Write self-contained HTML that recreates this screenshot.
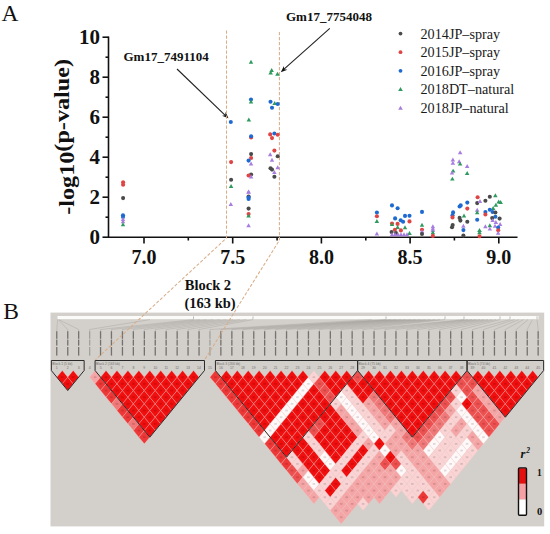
<!DOCTYPE html><html><head><meta charset="utf-8"><style>html,body{margin:0;padding:0;background:#fff;width:550px;height:534px;overflow:hidden}svg{display:block}</style></head><body>
<svg width="550" height="534" viewBox="0 0 550 534">
<rect width="550" height="534" fill="#fff"/>
<text x="1.5" y="21.2" font-family="Liberation Serif, serif" font-size="23.5" fill="#111">A</text>
<text x="3.2" y="319.3" font-family="Liberation Serif, serif" font-size="23.5" fill="#111">B</text>
<g stroke="#111" stroke-width="1.6" fill="none">
<path d="M108.5 36.5V237.2H517.5"/>
<path d="M102.5 237.2H108.5"/>
<path d="M102.5 197.2H108.5"/>
<path d="M102.5 157.2H108.5"/>
<path d="M102.5 117.2H108.5"/>
<path d="M102.5 77.2H108.5"/>
<path d="M102.5 37.2H108.5"/>
<path d="M105.5 217.2H108.5"/>
<path d="M105.5 177.2H108.5"/>
<path d="M105.5 137.2H108.5"/>
<path d="M105.5 97.2H108.5"/>
<path d="M105.5 57.2H108.5"/>
<path d="M144.0 237.2V243.5"/>
<path d="M232.7 237.2V243.5"/>
<path d="M321.4 237.2V243.5"/>
<path d="M410.1 237.2V243.5"/>
<path d="M498.8 237.2V243.5"/>
<path d="M188.3 237.2V240.5"/>
<path d="M277.1 237.2V240.5"/>
<path d="M365.8 237.2V240.5"/>
<path d="M454.4 237.2V240.5"/>
</g>
<g font-family="Liberation Serif, serif" font-weight="bold" font-size="21" fill="#111" text-anchor="end">
<text x="100" y="244.1">0</text>
<text x="100" y="204.1">2</text>
<text x="100" y="164.1">4</text>
<text x="100" y="124.1">6</text>
<text x="100" y="84.1">8</text>
<text x="100" y="44.1">10</text>
</g>
<g font-family="Liberation Serif, serif" font-weight="bold" font-size="20" fill="#111" text-anchor="middle">
<text x="144.0" y="264">7.0</text>
<text x="232.7" y="264">7.5</text>
<text x="321.4" y="264">8.0</text>
<text x="410.1" y="264">8.5</text>
<text x="498.8" y="264">9.0</text>
</g>
<text transform="translate(74.4 214.8) rotate(-90) scale(1.1 1)" font-family="Liberation Serif, serif" font-weight="bold" font-size="22" fill="#111">-log10<tspan dy="-5.2">(p-value)</tspan></text>
<g font-family="Liberation Serif, serif" font-weight="bold" font-size="13" fill="#111">
<text x="123.5" y="60.5">Gm17_7491104</text>
<text x="286" y="20.6">Gm17_7754048</text>
</g>
<g stroke="#222" stroke-width="1.1" fill="none"><path d="M177 69L225.5 115.6"/><path d="M329.8 28.3L283.5 69.6"/></g>
<path d="M228.50 118.30L222.01 115.68L225.21 115.15L225.60 111.93Z" fill="#111"/>
<path d="M280.80 72.20L283.91 65.93L284.19 69.16L287.38 69.80Z" fill="#111"/>
<g font-family="Liberation Serif, serif" font-weight="bold" font-size="14.5" fill="#111"><text x="184.8" y="290.2">Block 2</text><text x="184.5" y="307.5">(163 kb)</text></g>
<circle cx="400.5" cy="33.6" r="1.9" fill="#4a4a4a"/>
<text x="420.5" y="38.6" font-family="Liberation Serif, serif" font-size="14.2" fill="#1a1a1a">2014JP–spray</text>
<circle cx="400.5" cy="52.2" r="1.9" fill="#e04545"/>
<text x="420.5" y="57.2" font-family="Liberation Serif, serif" font-size="14.2" fill="#1a1a1a">2015JP–spray</text>
<circle cx="400.5" cy="70.8" r="1.9" fill="#1f6ad0"/>
<text x="420.5" y="75.8" font-family="Liberation Serif, serif" font-size="14.2" fill="#1a1a1a">2016JP–spray</text>
<path d="M400.5 87.1L402.8 91.1L398.2 91.1Z" fill="#2f9a5e"/>
<text x="420.5" y="94.4" font-family="Liberation Serif, serif" font-size="14.2" fill="#1a1a1a">2018DT–natural</text>
<path d="M400.5 105.7L402.8 109.7L398.2 109.7Z" fill="#a77ee0"/>
<text x="420.5" y="113.0" font-family="Liberation Serif, serif" font-size="14.2" fill="#1a1a1a">2018JP–natural</text>
<rect x="50.5" y="312.6" width="493.7" height="213.8" fill="#d3cfca"/>
<rect x="57.5" y="316" width="481" height="3.2" fill="#fbfbfa"/>
<g stroke="#f0c8c4" stroke-width="0.55" stroke-opacity="0.6"><path d="M62.27 370.50L67.74 377.17L62.27 383.84L56.80 377.17Z" fill="rgb(240,14,14)"/><path d="M67.74 377.17L73.21 383.84L67.74 390.51L62.27 383.84Z" fill="rgb(240,14,14)"/><path d="M73.21 370.50L78.68 377.17L73.21 383.84L67.74 377.17Z" fill="rgb(240,14,14)"/><path d="M95.09 370.50L100.56 377.17L95.09 383.84L89.62 377.17Z" fill="rgb(245,165,165)"/><path d="M100.56 377.17L106.03 383.84L100.56 390.51L95.09 383.84Z" fill="rgb(238,55,55)"/><path d="M106.03 383.84L111.50 390.51L106.03 397.18L100.56 390.51Z" fill="rgb(238,55,55)"/><path d="M111.50 390.51L116.97 397.18L111.50 403.85L106.03 397.18Z" fill="rgb(238,55,55)"/><path d="M116.97 397.18L122.44 403.85L116.97 410.52L111.50 403.85Z" fill="rgb(240,120,120)"/><path d="M122.44 403.85L127.91 410.52L122.44 417.19L116.97 410.52Z" fill="rgb(238,55,55)"/><path d="M127.91 410.52L133.38 417.19L127.91 423.86L122.44 417.19Z" fill="rgb(238,55,55)"/><path d="M133.38 417.19L138.85 423.86L133.38 430.53L127.91 423.86Z" fill="rgb(240,120,120)"/><path d="M138.85 423.86L144.32 430.53L138.85 437.20L133.38 430.53Z" fill="rgb(238,55,55)"/><path d="M144.32 430.53L149.79 437.20L144.32 443.87L138.85 437.20Z" fill="rgb(238,55,55)"/><path d="M106.03 370.50L111.50 377.17L106.03 383.84L100.56 377.17Z" fill="rgb(240,14,14)"/><path d="M111.50 377.17L116.97 383.84L111.50 390.51L106.03 383.84Z" fill="rgb(240,14,14)"/><path d="M116.97 383.84L122.44 390.51L116.97 397.18L111.50 390.51Z" fill="rgb(240,14,14)"/><path d="M122.44 390.51L127.91 397.18L122.44 403.85L116.97 397.18Z" fill="rgb(240,14,14)"/><path d="M127.91 397.18L133.38 403.85L127.91 410.52L122.44 403.85Z" fill="rgb(240,14,14)"/><path d="M133.38 403.85L138.85 410.52L133.38 417.19L127.91 410.52Z" fill="rgb(240,14,14)"/><path d="M138.85 410.52L144.32 417.19L138.85 423.86L133.38 417.19Z" fill="rgb(240,14,14)"/><path d="M144.32 417.19L149.79 423.86L144.32 430.53L138.85 423.86Z" fill="rgb(240,14,14)"/><path d="M149.79 423.86L155.26 430.53L149.79 437.20L144.32 430.53Z" fill="rgb(240,14,14)"/><path d="M116.97 370.50L122.44 377.17L116.97 383.84L111.50 377.17Z" fill="rgb(240,14,14)"/><path d="M122.44 377.17L127.91 383.84L122.44 390.51L116.97 383.84Z" fill="rgb(240,14,14)"/><path d="M127.91 383.84L133.38 390.51L127.91 397.18L122.44 390.51Z" fill="rgb(240,14,14)"/><path d="M133.38 390.51L138.85 397.18L133.38 403.85L127.91 397.18Z" fill="rgb(240,14,14)"/><path d="M138.85 397.18L144.32 403.85L138.85 410.52L133.38 403.85Z" fill="rgb(240,14,14)"/><path d="M144.32 403.85L149.79 410.52L144.32 417.19L138.85 410.52Z" fill="rgb(240,14,14)"/><path d="M149.79 410.52L155.26 417.19L149.79 423.86L144.32 417.19Z" fill="rgb(240,14,14)"/><path d="M155.26 417.19L160.73 423.86L155.26 430.53L149.79 423.86Z" fill="rgb(240,14,14)"/><path d="M127.91 370.50L133.38 377.17L127.91 383.84L122.44 377.17Z" fill="rgb(240,14,14)"/><path d="M133.38 377.17L138.85 383.84L133.38 390.51L127.91 383.84Z" fill="rgb(240,14,14)"/><path d="M138.85 383.84L144.32 390.51L138.85 397.18L133.38 390.51Z" fill="rgb(240,14,14)"/><path d="M144.32 390.51L149.79 397.18L144.32 403.85L138.85 397.18Z" fill="rgb(240,14,14)"/><path d="M149.79 397.18L155.26 403.85L149.79 410.52L144.32 403.85Z" fill="rgb(240,14,14)"/><path d="M155.26 403.85L160.73 410.52L155.26 417.19L149.79 410.52Z" fill="rgb(240,14,14)"/><path d="M160.73 410.52L166.20 417.19L160.73 423.86L155.26 417.19Z" fill="rgb(240,14,14)"/><path d="M138.85 370.50L144.32 377.17L138.85 383.84L133.38 377.17Z" fill="rgb(240,14,14)"/><path d="M144.32 377.17L149.79 383.84L144.32 390.51L138.85 383.84Z" fill="rgb(240,14,14)"/><path d="M149.79 383.84L155.26 390.51L149.79 397.18L144.32 390.51Z" fill="rgb(240,14,14)"/><path d="M155.26 390.51L160.73 397.18L155.26 403.85L149.79 397.18Z" fill="rgb(240,14,14)"/><path d="M160.73 397.18L166.20 403.85L160.73 410.52L155.26 403.85Z" fill="rgb(240,14,14)"/><path d="M166.20 403.85L171.67 410.52L166.20 417.19L160.73 410.52Z" fill="rgb(240,14,14)"/><path d="M149.79 370.50L155.26 377.17L149.79 383.84L144.32 377.17Z" fill="rgb(240,14,14)"/><path d="M155.26 377.17L160.73 383.84L155.26 390.51L149.79 383.84Z" fill="rgb(240,14,14)"/><path d="M160.73 383.84L166.20 390.51L160.73 397.18L155.26 390.51Z" fill="rgb(240,14,14)"/><path d="M166.20 390.51L171.67 397.18L166.20 403.85L160.73 397.18Z" fill="rgb(240,14,14)"/><path d="M171.67 397.18L177.14 403.85L171.67 410.52L166.20 403.85Z" fill="rgb(240,14,14)"/><path d="M160.73 370.50L166.20 377.17L160.73 383.84L155.26 377.17Z" fill="rgb(240,14,14)"/><path d="M166.20 377.17L171.67 383.84L166.20 390.51L160.73 383.84Z" fill="rgb(240,14,14)"/><path d="M171.67 383.84L177.14 390.51L171.67 397.18L166.20 390.51Z" fill="rgb(240,14,14)"/><path d="M177.14 390.51L182.61 397.18L177.14 403.85L171.67 397.18Z" fill="rgb(240,14,14)"/><path d="M171.67 370.50L177.14 377.17L171.67 383.84L166.20 377.17Z" fill="rgb(240,14,14)"/><path d="M177.14 377.17L182.61 383.84L177.14 390.51L171.67 383.84Z" fill="rgb(240,14,14)"/><path d="M182.61 383.84L188.08 390.51L182.61 397.18L177.14 390.51Z" fill="rgb(240,14,14)"/><path d="M182.61 370.50L188.08 377.17L182.61 383.84L177.14 377.17Z" fill="rgb(240,14,14)"/><path d="M188.08 377.17L193.55 383.84L188.08 390.51L182.61 383.84Z" fill="rgb(240,14,14)"/><path d="M193.55 370.50L199.02 377.17L193.55 383.84L188.08 377.17Z" fill="rgb(240,14,14)"/><path d="M215.43 370.50L220.90 377.17L215.43 383.84L209.96 377.17Z" fill="rgb(238,55,55)"/><path d="M220.90 377.17L226.37 383.84L220.90 390.51L215.43 383.84Z" fill="rgb(238,55,55)"/><path d="M226.37 383.84L231.84 390.51L226.37 397.18L220.90 390.51Z" fill="rgb(238,55,55)"/><path d="M231.84 390.51L237.31 397.18L231.84 403.85L226.37 397.18Z" fill="rgb(238,55,55)"/><path d="M237.31 397.18L242.78 403.85L237.31 410.52L231.84 403.85Z" fill="rgb(238,55,55)"/><path d="M242.78 403.85L248.25 410.52L242.78 417.19L237.31 410.52Z" fill="rgb(238,55,55)"/><path d="M248.25 410.52L253.72 417.19L248.25 423.86L242.78 417.19Z" fill="rgb(238,55,55)"/><path d="M253.72 417.19L259.19 423.86L253.72 430.53L248.25 423.86Z" fill="rgb(238,55,55)"/><path d="M259.19 423.86L264.66 430.53L259.19 437.20L253.72 430.53Z" fill="rgb(238,55,55)"/><path d="M264.66 430.53L270.13 437.20L264.66 443.87L259.19 437.20Z" fill="rgb(255,248,248)"/><path d="M270.13 437.20L275.60 443.87L270.13 450.54L264.66 443.87Z" fill="rgb(238,55,55)"/><path d="M275.60 443.87L281.07 450.54L275.60 457.21L270.13 450.54Z" fill="rgb(238,55,55)"/><path d="M281.07 450.54L286.54 457.21L281.07 463.88L275.60 457.21Z" fill="rgb(238,55,55)"/><path d="M286.54 457.21L292.01 463.88L286.54 470.55L281.07 463.88Z" fill="rgb(238,55,55)"/><path d="M292.01 463.88L297.48 470.55L292.01 477.22L286.54 470.55Z" fill="rgb(238,80,80)"/><path d="M297.48 470.55L302.95 477.22L297.48 483.89L292.01 477.22Z" fill="rgb(238,80,80)"/><path d="M302.95 477.22L308.42 483.89L302.95 490.56L297.48 483.89Z" fill="rgb(245,165,165)"/><path d="M308.42 483.89L313.89 490.56L308.42 497.23L302.95 490.56Z" fill="rgb(245,165,165)"/><path d="M313.89 490.56L319.36 497.23L313.89 503.90L308.42 497.23Z" fill="rgb(245,165,165)"/><path d="M226.37 370.50L231.84 377.17L226.37 383.84L220.90 377.17Z" fill="rgb(240,14,14)"/><path d="M231.84 377.17L237.31 383.84L231.84 390.51L226.37 383.84Z" fill="rgb(240,14,14)"/><path d="M237.31 383.84L242.78 390.51L237.31 397.18L231.84 390.51Z" fill="rgb(240,14,14)"/><path d="M242.78 390.51L248.25 397.18L242.78 403.85L237.31 397.18Z" fill="rgb(240,14,14)"/><path d="M248.25 397.18L253.72 403.85L248.25 410.52L242.78 403.85Z" fill="rgb(240,14,14)"/><path d="M253.72 403.85L259.19 410.52L253.72 417.19L248.25 410.52Z" fill="rgb(240,14,14)"/><path d="M259.19 410.52L264.66 417.19L259.19 423.86L253.72 417.19Z" fill="rgb(240,14,14)"/><path d="M264.66 417.19L270.13 423.86L264.66 430.53L259.19 423.86Z" fill="rgb(240,14,14)"/><path d="M270.13 423.86L275.60 430.53L270.13 437.20L264.66 430.53Z" fill="rgb(255,248,248)"/><path d="M275.60 430.53L281.07 437.20L275.60 443.87L270.13 437.20Z" fill="rgb(240,14,14)"/><path d="M281.07 437.20L286.54 443.87L281.07 450.54L275.60 443.87Z" fill="rgb(240,14,14)"/><path d="M286.54 443.87L292.01 450.54L286.54 457.21L281.07 450.54Z" fill="rgb(240,14,14)"/><path d="M292.01 450.54L297.48 457.21L292.01 463.88L286.54 457.21Z" fill="rgb(250,212,212)"/><path d="M297.48 457.21L302.95 463.88L297.48 470.55L292.01 463.88Z" fill="rgb(250,212,212)"/><path d="M302.95 463.88L308.42 470.55L302.95 477.22L297.48 470.55Z" fill="rgb(245,165,165)"/><path d="M308.42 470.55L313.89 477.22L308.42 483.89L302.95 477.22Z" fill="rgb(255,248,248)"/><path d="M313.89 477.22L319.36 483.89L313.89 490.56L308.42 483.89Z" fill="rgb(255,248,248)"/><path d="M319.36 483.89L324.83 490.56L319.36 497.23L313.89 490.56Z" fill="rgb(250,212,212)"/><path d="M324.83 490.56L330.30 497.23L324.83 503.90L319.36 497.23Z" fill="rgb(250,212,212)"/><path d="M330.30 497.23L335.77 503.90L330.30 510.57L324.83 503.90Z" fill="rgb(250,212,212)"/><path d="M335.77 503.90L341.24 510.57L335.77 517.24L330.30 510.57Z" fill="rgb(245,165,165)"/><path d="M341.24 510.57L346.71 517.24L341.24 523.91L335.77 517.24Z" fill="rgb(245,165,165)"/><path d="M237.31 370.50L242.78 377.17L237.31 383.84L231.84 377.17Z" fill="rgb(240,14,14)"/><path d="M242.78 377.17L248.25 383.84L242.78 390.51L237.31 383.84Z" fill="rgb(240,14,14)"/><path d="M248.25 383.84L253.72 390.51L248.25 397.18L242.78 390.51Z" fill="rgb(240,14,14)"/><path d="M253.72 390.51L259.19 397.18L253.72 403.85L248.25 397.18Z" fill="rgb(240,14,14)"/><path d="M259.19 397.18L264.66 403.85L259.19 410.52L253.72 403.85Z" fill="rgb(240,14,14)"/><path d="M264.66 403.85L270.13 410.52L264.66 417.19L259.19 410.52Z" fill="rgb(240,14,14)"/><path d="M270.13 410.52L275.60 417.19L270.13 423.86L264.66 417.19Z" fill="rgb(240,14,14)"/><path d="M275.60 417.19L281.07 423.86L275.60 430.53L270.13 423.86Z" fill="rgb(255,248,248)"/><path d="M281.07 423.86L286.54 430.53L281.07 437.20L275.60 430.53Z" fill="rgb(240,14,14)"/><path d="M286.54 430.53L292.01 437.20L286.54 443.87L281.07 437.20Z" fill="rgb(240,14,14)"/><path d="M292.01 437.20L297.48 443.87L292.01 450.54L286.54 443.87Z" fill="rgb(240,14,14)"/><path d="M297.48 443.87L302.95 450.54L297.48 457.21L292.01 450.54Z" fill="rgb(240,14,14)"/><path d="M302.95 450.54L308.42 457.21L302.95 463.88L297.48 457.21Z" fill="rgb(240,14,14)"/><path d="M308.42 457.21L313.89 463.88L308.42 470.55L302.95 463.88Z" fill="rgb(240,14,14)"/><path d="M313.89 463.88L319.36 470.55L313.89 477.22L308.42 470.55Z" fill="rgb(240,14,14)"/><path d="M319.36 470.55L324.83 477.22L319.36 483.89L313.89 477.22Z" fill="rgb(240,14,14)"/><path d="M324.83 477.22L330.30 483.89L324.83 490.56L319.36 483.89Z" fill="rgb(250,212,212)"/><path d="M330.30 483.89L335.77 490.56L330.30 497.23L324.83 490.56Z" fill="rgb(240,14,14)"/><path d="M335.77 490.56L341.24 497.23L335.77 503.90L330.30 497.23Z" fill="rgb(250,212,212)"/><path d="M341.24 497.23L346.71 503.90L341.24 510.57L335.77 503.90Z" fill="rgb(245,165,165)"/><path d="M346.71 503.90L352.18 510.57L346.71 517.24L341.24 510.57Z" fill="rgb(245,165,165)"/><path d="M248.25 370.50L253.72 377.17L248.25 383.84L242.78 377.17Z" fill="rgb(240,14,14)"/><path d="M253.72 377.17L259.19 383.84L253.72 390.51L248.25 383.84Z" fill="rgb(240,14,14)"/><path d="M259.19 383.84L264.66 390.51L259.19 397.18L253.72 390.51Z" fill="rgb(240,14,14)"/><path d="M264.66 390.51L270.13 397.18L264.66 403.85L259.19 397.18Z" fill="rgb(240,14,14)"/><path d="M270.13 397.18L275.60 403.85L270.13 410.52L264.66 403.85Z" fill="rgb(240,14,14)"/><path d="M275.60 403.85L281.07 410.52L275.60 417.19L270.13 410.52Z" fill="rgb(240,14,14)"/><path d="M281.07 410.52L286.54 417.19L281.07 423.86L275.60 417.19Z" fill="rgb(255,248,248)"/><path d="M286.54 417.19L292.01 423.86L286.54 430.53L281.07 423.86Z" fill="rgb(240,14,14)"/><path d="M292.01 423.86L297.48 430.53L292.01 437.20L286.54 430.53Z" fill="rgb(240,14,14)"/><path d="M297.48 430.53L302.95 437.20L297.48 443.87L292.01 437.20Z" fill="rgb(240,14,14)"/><path d="M302.95 437.20L308.42 443.87L302.95 450.54L297.48 443.87Z" fill="rgb(240,14,14)"/><path d="M308.42 443.87L313.89 450.54L308.42 457.21L302.95 450.54Z" fill="rgb(240,14,14)"/><path d="M313.89 450.54L319.36 457.21L313.89 463.88L308.42 457.21Z" fill="rgb(240,14,14)"/><path d="M319.36 457.21L324.83 463.88L319.36 470.55L313.89 463.88Z" fill="rgb(240,14,14)"/><path d="M324.83 463.88L330.30 470.55L324.83 477.22L319.36 470.55Z" fill="rgb(240,14,14)"/><path d="M330.30 470.55L335.77 477.22L330.30 483.89L324.83 477.22Z" fill="rgb(250,212,212)"/><path d="M335.77 477.22L341.24 483.89L335.77 490.56L330.30 483.89Z" fill="rgb(240,14,14)"/><path d="M341.24 483.89L346.71 490.56L341.24 497.23L335.77 490.56Z" fill="rgb(250,212,212)"/><path d="M346.71 490.56L352.18 497.23L346.71 503.90L341.24 497.23Z" fill="rgb(245,165,165)"/><path d="M352.18 497.23L357.65 503.90L352.18 510.57L346.71 503.90Z" fill="rgb(245,165,165)"/><path d="M259.19 370.50L264.66 377.17L259.19 383.84L253.72 377.17Z" fill="rgb(240,14,14)"/><path d="M264.66 377.17L270.13 383.84L264.66 390.51L259.19 383.84Z" fill="rgb(240,14,14)"/><path d="M270.13 383.84L275.60 390.51L270.13 397.18L264.66 390.51Z" fill="rgb(240,14,14)"/><path d="M275.60 390.51L281.07 397.18L275.60 403.85L270.13 397.18Z" fill="rgb(240,14,14)"/><path d="M281.07 397.18L286.54 403.85L281.07 410.52L275.60 403.85Z" fill="rgb(240,14,14)"/><path d="M286.54 403.85L292.01 410.52L286.54 417.19L281.07 410.52Z" fill="rgb(255,248,248)"/><path d="M292.01 410.52L297.48 417.19L292.01 423.86L286.54 417.19Z" fill="rgb(240,14,14)"/><path d="M297.48 417.19L302.95 423.86L297.48 430.53L292.01 423.86Z" fill="rgb(240,14,14)"/><path d="M302.95 423.86L308.42 430.53L302.95 437.20L297.48 430.53Z" fill="rgb(240,14,14)"/><path d="M308.42 430.53L313.89 437.20L308.42 443.87L302.95 437.20Z" fill="rgb(250,212,212)"/><path d="M313.89 437.20L319.36 443.87L313.89 450.54L308.42 443.87Z" fill="rgb(250,212,212)"/><path d="M319.36 443.87L324.83 450.54L319.36 457.21L313.89 450.54Z" fill="rgb(250,212,212)"/><path d="M324.83 450.54L330.30 457.21L324.83 463.88L319.36 457.21Z" fill="rgb(255,248,248)"/><path d="M330.30 457.21L335.77 463.88L330.30 470.55L324.83 463.88Z" fill="rgb(255,248,248)"/><path d="M335.77 463.88L341.24 470.55L335.77 477.22L330.30 470.55Z" fill="rgb(250,212,212)"/><path d="M341.24 470.55L346.71 477.22L341.24 483.89L335.77 477.22Z" fill="rgb(250,212,212)"/><path d="M346.71 477.22L352.18 483.89L346.71 490.56L341.24 483.89Z" fill="rgb(250,212,212)"/><path d="M352.18 483.89L357.65 490.56L352.18 497.23L346.71 490.56Z" fill="rgb(245,165,165)"/><path d="M357.65 490.56L363.12 497.23L357.65 503.90L352.18 497.23Z" fill="rgb(245,165,165)"/><path d="M363.12 497.23L368.59 503.90L363.12 510.57L357.65 503.90Z" fill="rgb(250,212,212)"/><path d="M270.13 370.50L275.60 377.17L270.13 383.84L264.66 377.17Z" fill="rgb(240,14,14)"/><path d="M275.60 377.17L281.07 383.84L275.60 390.51L270.13 383.84Z" fill="rgb(240,14,14)"/><path d="M281.07 383.84L286.54 390.51L281.07 397.18L275.60 390.51Z" fill="rgb(240,14,14)"/><path d="M286.54 390.51L292.01 397.18L286.54 403.85L281.07 397.18Z" fill="rgb(240,14,14)"/><path d="M292.01 397.18L297.48 403.85L292.01 410.52L286.54 403.85Z" fill="rgb(255,248,248)"/><path d="M297.48 403.85L302.95 410.52L297.48 417.19L292.01 410.52Z" fill="rgb(240,14,14)"/><path d="M302.95 410.52L308.42 417.19L302.95 423.86L297.48 417.19Z" fill="rgb(240,14,14)"/><path d="M308.42 417.19L313.89 423.86L308.42 430.53L302.95 423.86Z" fill="rgb(240,14,14)"/><path d="M313.89 423.86L319.36 430.53L313.89 437.20L308.42 430.53Z" fill="rgb(238,80,80)"/><path d="M319.36 430.53L324.83 437.20L319.36 443.87L313.89 437.20Z" fill="rgb(240,14,14)"/><path d="M324.83 437.20L330.30 443.87L324.83 450.54L319.36 443.87Z" fill="rgb(240,14,14)"/><path d="M330.30 443.87L335.77 450.54L330.30 457.21L324.83 450.54Z" fill="rgb(240,14,14)"/><path d="M335.77 450.54L341.24 457.21L335.77 463.88L330.30 457.21Z" fill="rgb(240,14,14)"/><path d="M341.24 457.21L346.71 463.88L341.24 470.55L335.77 463.88Z" fill="rgb(250,212,212)"/><path d="M346.71 463.88L352.18 470.55L346.71 477.22L341.24 470.55Z" fill="rgb(240,14,14)"/><path d="M352.18 470.55L357.65 477.22L352.18 483.89L346.71 477.22Z" fill="rgb(250,212,212)"/><path d="M357.65 477.22L363.12 483.89L357.65 490.56L352.18 483.89Z" fill="rgb(245,165,165)"/><path d="M363.12 483.89L368.59 490.56L363.12 497.23L357.65 490.56Z" fill="rgb(245,165,165)"/><path d="M368.59 490.56L374.06 497.23L368.59 503.90L363.12 497.23Z" fill="rgb(245,165,165)"/><path d="M281.07 370.50L286.54 377.17L281.07 383.84L275.60 377.17Z" fill="rgb(240,14,14)"/><path d="M286.54 377.17L292.01 383.84L286.54 390.51L281.07 383.84Z" fill="rgb(240,14,14)"/><path d="M292.01 383.84L297.48 390.51L292.01 397.18L286.54 390.51Z" fill="rgb(240,14,14)"/><path d="M297.48 390.51L302.95 397.18L297.48 403.85L292.01 397.18Z" fill="rgb(255,248,248)"/><path d="M302.95 397.18L308.42 403.85L302.95 410.52L297.48 403.85Z" fill="rgb(240,14,14)"/><path d="M308.42 403.85L313.89 410.52L308.42 417.19L302.95 410.52Z" fill="rgb(240,14,14)"/><path d="M313.89 410.52L319.36 417.19L313.89 423.86L308.42 417.19Z" fill="rgb(240,14,14)"/><path d="M319.36 417.19L324.83 423.86L319.36 430.53L313.89 423.86Z" fill="rgb(238,80,80)"/><path d="M324.83 423.86L330.30 430.53L324.83 437.20L319.36 430.53Z" fill="rgb(240,14,14)"/><path d="M330.30 430.53L335.77 437.20L330.30 443.87L324.83 437.20Z" fill="rgb(240,14,14)"/><path d="M335.77 437.20L341.24 443.87L335.77 450.54L330.30 443.87Z" fill="rgb(240,14,14)"/><path d="M341.24 443.87L346.71 450.54L341.24 457.21L335.77 450.54Z" fill="rgb(240,14,14)"/><path d="M346.71 450.54L352.18 457.21L346.71 463.88L341.24 457.21Z" fill="rgb(250,212,212)"/><path d="M352.18 457.21L357.65 463.88L352.18 470.55L346.71 463.88Z" fill="rgb(240,14,14)"/><path d="M357.65 463.88L363.12 470.55L357.65 477.22L352.18 470.55Z" fill="rgb(250,212,212)"/><path d="M363.12 470.55L368.59 477.22L363.12 483.89L357.65 477.22Z" fill="rgb(245,165,165)"/><path d="M368.59 477.22L374.06 483.89L368.59 490.56L363.12 483.89Z" fill="rgb(245,165,165)"/><path d="M374.06 483.89L379.53 490.56L374.06 497.23L368.59 490.56Z" fill="rgb(245,165,165)"/><path d="M379.53 490.56L385.00 497.23L379.53 503.90L374.06 497.23Z" fill="rgb(245,165,165)"/><path d="M292.01 370.50L297.48 377.17L292.01 383.84L286.54 377.17Z" fill="rgb(240,14,14)"/><path d="M297.48 377.17L302.95 383.84L297.48 390.51L292.01 383.84Z" fill="rgb(240,14,14)"/><path d="M302.95 383.84L308.42 390.51L302.95 397.18L297.48 390.51Z" fill="rgb(255,248,248)"/><path d="M308.42 390.51L313.89 397.18L308.42 403.85L302.95 397.18Z" fill="rgb(240,14,14)"/><path d="M313.89 397.18L319.36 403.85L313.89 410.52L308.42 403.85Z" fill="rgb(240,14,14)"/><path d="M319.36 403.85L324.83 410.52L319.36 417.19L313.89 410.52Z" fill="rgb(240,14,14)"/><path d="M324.83 410.52L330.30 417.19L324.83 423.86L319.36 417.19Z" fill="rgb(240,14,14)"/><path d="M330.30 417.19L335.77 423.86L330.30 430.53L324.83 423.86Z" fill="rgb(240,14,14)"/><path d="M335.77 423.86L341.24 430.53L335.77 437.20L330.30 430.53Z" fill="rgb(240,14,14)"/><path d="M341.24 430.53L346.71 437.20L341.24 443.87L335.77 437.20Z" fill="rgb(240,14,14)"/><path d="M346.71 437.20L352.18 443.87L346.71 450.54L341.24 443.87Z" fill="rgb(240,14,14)"/><path d="M352.18 443.87L357.65 450.54L352.18 457.21L346.71 450.54Z" fill="rgb(250,212,212)"/><path d="M357.65 450.54L363.12 457.21L357.65 463.88L352.18 457.21Z" fill="rgb(240,14,14)"/><path d="M363.12 457.21L368.59 463.88L363.12 470.55L357.65 463.88Z" fill="rgb(250,212,212)"/><path d="M368.59 463.88L374.06 470.55L368.59 477.22L363.12 470.55Z" fill="rgb(245,165,165)"/><path d="M374.06 470.55L379.53 477.22L374.06 483.89L368.59 477.22Z" fill="rgb(245,165,165)"/><path d="M379.53 477.22L385.00 483.89L379.53 490.56L374.06 483.89Z" fill="rgb(245,165,165)"/><path d="M385.00 483.89L390.47 490.56L385.00 497.23L379.53 490.56Z" fill="rgb(245,165,165)"/><path d="M302.95 370.50L308.42 377.17L302.95 383.84L297.48 377.17Z" fill="rgb(240,14,14)"/><path d="M308.42 377.17L313.89 383.84L308.42 390.51L302.95 383.84Z" fill="rgb(255,248,248)"/><path d="M313.89 383.84L319.36 390.51L313.89 397.18L308.42 390.51Z" fill="rgb(240,14,14)"/><path d="M319.36 390.51L324.83 397.18L319.36 403.85L313.89 397.18Z" fill="rgb(240,14,14)"/><path d="M324.83 397.18L330.30 403.85L324.83 410.52L319.36 403.85Z" fill="rgb(240,14,14)"/><path d="M330.30 403.85L335.77 410.52L330.30 417.19L324.83 410.52Z" fill="rgb(240,14,14)"/><path d="M335.77 410.52L341.24 417.19L335.77 423.86L330.30 417.19Z" fill="rgb(240,14,14)"/><path d="M341.24 417.19L346.71 423.86L341.24 430.53L335.77 423.86Z" fill="rgb(240,14,14)"/><path d="M346.71 423.86L352.18 430.53L346.71 437.20L341.24 430.53Z" fill="rgb(240,14,14)"/><path d="M352.18 430.53L357.65 437.20L352.18 443.87L346.71 437.20Z" fill="rgb(240,14,14)"/><path d="M357.65 437.20L363.12 443.87L357.65 450.54L352.18 443.87Z" fill="rgb(250,212,212)"/><path d="M363.12 443.87L368.59 450.54L363.12 457.21L357.65 450.54Z" fill="rgb(240,14,14)"/><path d="M368.59 450.54L374.06 457.21L368.59 463.88L363.12 457.21Z" fill="rgb(250,212,212)"/><path d="M374.06 457.21L379.53 463.88L374.06 470.55L368.59 463.88Z" fill="rgb(245,165,165)"/><path d="M379.53 463.88L385.00 470.55L379.53 477.22L374.06 470.55Z" fill="rgb(245,165,165)"/><path d="M385.00 470.55L390.47 477.22L385.00 483.89L379.53 477.22Z" fill="rgb(245,165,165)"/><path d="M390.47 477.22L395.94 483.89L390.47 490.56L385.00 483.89Z" fill="rgb(245,165,165)"/><path d="M395.94 483.89L401.41 490.56L395.94 497.23L390.47 490.56Z" fill="rgb(250,212,212)"/><path d="M313.89 370.50L319.36 377.17L313.89 383.84L308.42 377.17Z" fill="rgb(250,212,212)"/><path d="M319.36 377.17L324.83 383.84L319.36 390.51L313.89 383.84Z" fill="rgb(238,80,80)"/><path d="M324.83 383.84L330.30 390.51L324.83 397.18L319.36 390.51Z" fill="rgb(238,80,80)"/><path d="M330.30 390.51L335.77 397.18L330.30 403.85L324.83 397.18Z" fill="rgb(238,80,80)"/><path d="M335.77 397.18L341.24 403.85L335.77 410.52L330.30 403.85Z" fill="rgb(250,212,212)"/><path d="M341.24 403.85L346.71 410.52L341.24 417.19L335.77 410.52Z" fill="rgb(245,165,165)"/><path d="M346.71 410.52L352.18 417.19L346.71 423.86L341.24 417.19Z" fill="rgb(245,165,165)"/><path d="M352.18 417.19L357.65 423.86L352.18 430.53L346.71 423.86Z" fill="rgb(245,165,165)"/><path d="M357.65 423.86L363.12 430.53L357.65 437.20L352.18 430.53Z" fill="rgb(245,165,165)"/><path d="M363.12 430.53L368.59 437.20L363.12 443.87L357.65 437.20Z" fill="rgb(250,212,212)"/><path d="M368.59 437.20L374.06 443.87L368.59 450.54L363.12 443.87Z" fill="rgb(245,165,165)"/><path d="M374.06 443.87L379.53 450.54L374.06 457.21L368.59 450.54Z" fill="rgb(250,212,212)"/><path d="M379.53 450.54L385.00 457.21L379.53 463.88L374.06 457.21Z" fill="rgb(245,165,165)"/><path d="M385.00 457.21L390.47 463.88L385.00 470.55L379.53 463.88Z" fill="rgb(238,80,80)"/><path d="M390.47 463.88L395.94 470.55L390.47 477.22L385.00 470.55Z" fill="rgb(245,165,165)"/><path d="M395.94 470.55L401.41 477.22L395.94 483.89L390.47 477.22Z" fill="rgb(245,165,165)"/><path d="M401.41 477.22L406.88 483.89L401.41 490.56L395.94 483.89Z" fill="rgb(250,212,212)"/><path d="M406.88 483.89L412.35 490.56L406.88 497.23L401.41 490.56Z" fill="rgb(250,212,212)"/><path d="M412.35 490.56L417.82 497.23L412.35 503.90L406.88 497.23Z" fill="rgb(250,212,212)"/><path d="M324.83 370.50L330.30 377.17L324.83 383.84L319.36 377.17Z" fill="rgb(240,14,14)"/><path d="M330.30 377.17L335.77 383.84L330.30 390.51L324.83 383.84Z" fill="rgb(240,14,14)"/><path d="M335.77 383.84L341.24 390.51L335.77 397.18L330.30 390.51Z" fill="rgb(240,14,14)"/><path d="M341.24 390.51L346.71 397.18L341.24 403.85L335.77 397.18Z" fill="rgb(255,248,248)"/><path d="M346.71 397.18L352.18 403.85L346.71 410.52L341.24 403.85Z" fill="rgb(255,248,248)"/><path d="M352.18 403.85L357.65 410.52L352.18 417.19L346.71 410.52Z" fill="rgb(255,248,248)"/><path d="M357.65 410.52L363.12 417.19L357.65 423.86L352.18 417.19Z" fill="rgb(255,248,248)"/><path d="M363.12 417.19L368.59 423.86L363.12 430.53L357.65 423.86Z" fill="rgb(255,248,248)"/><path d="M368.59 423.86L374.06 430.53L368.59 437.20L363.12 430.53Z" fill="rgb(255,248,248)"/><path d="M374.06 430.53L379.53 437.20L374.06 443.87L368.59 437.20Z" fill="rgb(255,248,248)"/><path d="M379.53 437.20L385.00 443.87L379.53 450.54L374.06 443.87Z" fill="rgb(240,14,14)"/><path d="M385.00 443.87L390.47 450.54L385.00 457.21L379.53 450.54Z" fill="rgb(255,248,248)"/><path d="M390.47 450.54L395.94 457.21L390.47 463.88L385.00 457.21Z" fill="rgb(240,14,14)"/><path d="M395.94 457.21L401.41 463.88L395.94 470.55L390.47 463.88Z" fill="rgb(238,80,80)"/><path d="M401.41 463.88L406.88 470.55L401.41 477.22L395.94 470.55Z" fill="rgb(255,248,248)"/><path d="M406.88 470.55L412.35 477.22L406.88 483.89L401.41 477.22Z" fill="rgb(250,212,212)"/><path d="M412.35 477.22L417.82 483.89L412.35 490.56L406.88 483.89Z" fill="rgb(250,212,212)"/><path d="M417.82 483.89L423.29 490.56L417.82 497.23L412.35 490.56Z" fill="rgb(250,212,212)"/><path d="M423.29 490.56L428.76 497.23L423.29 503.90L417.82 497.23Z" fill="rgb(238,55,55)"/><path d="M428.76 497.23L434.23 503.90L428.76 510.57L423.29 503.90Z" fill="rgb(250,212,212)"/><path d="M335.77 370.50L341.24 377.17L335.77 383.84L330.30 377.17Z" fill="rgb(240,14,14)"/><path d="M341.24 377.17L346.71 383.84L341.24 390.51L335.77 383.84Z" fill="rgb(240,14,14)"/><path d="M346.71 383.84L352.18 390.51L346.71 397.18L341.24 390.51Z" fill="rgb(250,212,212)"/><path d="M352.18 390.51L357.65 397.18L352.18 403.85L346.71 397.18Z" fill="rgb(250,212,212)"/><path d="M357.65 397.18L363.12 403.85L357.65 410.52L352.18 403.85Z" fill="rgb(250,212,212)"/><path d="M363.12 403.85L368.59 410.52L363.12 417.19L357.65 410.52Z" fill="rgb(250,212,212)"/><path d="M368.59 410.52L374.06 417.19L368.59 423.86L363.12 417.19Z" fill="rgb(250,212,212)"/><path d="M374.06 417.19L379.53 423.86L374.06 430.53L368.59 423.86Z" fill="rgb(250,212,212)"/><path d="M379.53 423.86L385.00 430.53L379.53 437.20L374.06 430.53Z" fill="rgb(250,212,212)"/><path d="M385.00 430.53L390.47 437.20L385.00 443.87L379.53 437.20Z" fill="rgb(250,212,212)"/><path d="M390.47 437.20L395.94 443.87L390.47 450.54L385.00 443.87Z" fill="rgb(245,165,165)"/><path d="M395.94 443.87L401.41 450.54L395.94 457.21L390.47 450.54Z" fill="rgb(245,165,165)"/><path d="M401.41 450.54L406.88 457.21L401.41 463.88L395.94 457.21Z" fill="rgb(250,212,212)"/><path d="M406.88 457.21L412.35 463.88L406.88 470.55L401.41 463.88Z" fill="rgb(250,212,212)"/><path d="M412.35 463.88L417.82 470.55L412.35 477.22L406.88 470.55Z" fill="rgb(250,212,212)"/><path d="M417.82 470.55L423.29 477.22L417.82 483.89L412.35 477.22Z" fill="rgb(250,212,212)"/><path d="M423.29 477.22L428.76 483.89L423.29 490.56L417.82 483.89Z" fill="rgb(250,212,212)"/><path d="M428.76 483.89L434.23 490.56L428.76 497.23L423.29 490.56Z" fill="rgb(250,212,212)"/><path d="M434.23 490.56L439.70 497.23L434.23 503.90L428.76 497.23Z" fill="rgb(250,212,212)"/><path d="M346.71 370.50L352.18 377.17L346.71 383.84L341.24 377.17Z" fill="rgb(240,14,14)"/><path d="M352.18 377.17L357.65 383.84L352.18 390.51L346.71 383.84Z" fill="rgb(240,14,14)"/><path d="M357.65 383.84L363.12 390.51L357.65 397.18L352.18 390.51Z" fill="rgb(240,14,14)"/><path d="M363.12 390.51L368.59 397.18L363.12 403.85L357.65 397.18Z" fill="rgb(240,14,14)"/><path d="M368.59 397.18L374.06 403.85L368.59 410.52L363.12 403.85Z" fill="rgb(245,165,165)"/><path d="M374.06 403.85L379.53 410.52L374.06 417.19L368.59 410.52Z" fill="rgb(245,165,165)"/><path d="M379.53 410.52L385.00 417.19L379.53 423.86L374.06 417.19Z" fill="rgb(245,165,165)"/><path d="M385.00 417.19L390.47 423.86L385.00 430.53L379.53 423.86Z" fill="rgb(245,165,165)"/><path d="M390.47 423.86L395.94 430.53L390.47 437.20L385.00 430.53Z" fill="rgb(250,212,212)"/><path d="M395.94 430.53L401.41 437.20L395.94 443.87L390.47 437.20Z" fill="rgb(245,165,165)"/><path d="M401.41 437.20L406.88 443.87L401.41 450.54L395.94 443.87Z" fill="rgb(245,165,165)"/><path d="M406.88 443.87L412.35 450.54L406.88 457.21L401.41 450.54Z" fill="rgb(245,165,165)"/><path d="M412.35 450.54L417.82 457.21L412.35 463.88L406.88 457.21Z" fill="rgb(245,165,165)"/><path d="M417.82 457.21L423.29 463.88L417.82 470.55L412.35 463.88Z" fill="rgb(245,165,165)"/><path d="M423.29 463.88L428.76 470.55L423.29 477.22L417.82 470.55Z" fill="rgb(245,165,165)"/><path d="M428.76 470.55L434.23 477.22L428.76 483.89L423.29 477.22Z" fill="rgb(245,165,165)"/><path d="M434.23 477.22L439.70 483.89L434.23 490.56L428.76 483.89Z" fill="rgb(245,165,165)"/><path d="M439.70 483.89L445.17 490.56L439.70 497.23L434.23 490.56Z" fill="rgb(245,165,165)"/><path d="M357.65 370.50L363.12 377.17L357.65 383.84L352.18 377.17Z" fill="rgb(238,80,80)"/><path d="M363.12 377.17L368.59 383.84L363.12 390.51L357.65 383.84Z" fill="rgb(240,14,14)"/><path d="M368.59 383.84L374.06 390.51L368.59 397.18L363.12 390.51Z" fill="rgb(240,14,14)"/><path d="M374.06 390.51L379.53 397.18L374.06 403.85L368.59 397.18Z" fill="rgb(240,120,120)"/><path d="M379.53 397.18L385.00 403.85L379.53 410.52L374.06 403.85Z" fill="rgb(240,120,120)"/><path d="M385.00 403.85L390.47 410.52L385.00 417.19L379.53 410.52Z" fill="rgb(240,120,120)"/><path d="M390.47 410.52L395.94 417.19L390.47 423.86L385.00 417.19Z" fill="rgb(240,120,120)"/><path d="M395.94 417.19L401.41 423.86L395.94 430.53L390.47 423.86Z" fill="rgb(245,165,165)"/><path d="M401.41 423.86L406.88 430.53L401.41 437.20L395.94 430.53Z" fill="rgb(245,165,165)"/><path d="M406.88 430.53L412.35 437.20L406.88 443.87L401.41 437.20Z" fill="rgb(240,120,120)"/><path d="M412.35 437.20L417.82 443.87L412.35 450.54L406.88 443.87Z" fill="rgb(240,120,120)"/><path d="M417.82 443.87L423.29 450.54L417.82 457.21L412.35 450.54Z" fill="rgb(245,165,165)"/><path d="M423.29 450.54L428.76 457.21L423.29 463.88L417.82 457.21Z" fill="rgb(245,165,165)"/><path d="M428.76 457.21L434.23 463.88L428.76 470.55L423.29 463.88Z" fill="rgb(245,165,165)"/><path d="M434.23 463.88L439.70 470.55L434.23 477.22L428.76 470.55Z" fill="rgb(245,165,165)"/><path d="M439.70 470.55L445.17 477.22L439.70 483.89L434.23 477.22Z" fill="rgb(245,165,165)"/><path d="M445.17 477.22L450.64 483.89L445.17 490.56L439.70 483.89Z" fill="rgb(245,165,165)"/><path d="M368.59 370.50L374.06 377.17L368.59 383.84L363.12 377.17Z" fill="rgb(240,14,14)"/><path d="M374.06 377.17L379.53 383.84L374.06 390.51L368.59 383.84Z" fill="rgb(240,14,14)"/><path d="M379.53 383.84L385.00 390.51L379.53 397.18L374.06 390.51Z" fill="rgb(240,14,14)"/><path d="M385.00 390.51L390.47 397.18L385.00 403.85L379.53 397.18Z" fill="rgb(240,14,14)"/><path d="M390.47 397.18L395.94 403.85L390.47 410.52L385.00 403.85Z" fill="rgb(240,14,14)"/><path d="M395.94 403.85L401.41 410.52L395.94 417.19L390.47 410.52Z" fill="rgb(240,14,14)"/><path d="M401.41 410.52L406.88 417.19L401.41 423.86L395.94 417.19Z" fill="rgb(240,14,14)"/><path d="M406.88 417.19L412.35 423.86L406.88 430.53L401.41 423.86Z" fill="rgb(240,14,14)"/><path d="M412.35 423.86L417.82 430.53L412.35 437.20L406.88 430.53Z" fill="rgb(240,14,14)"/><path d="M417.82 430.53L423.29 437.20L417.82 443.87L412.35 437.20Z" fill="rgb(238,80,80)"/><path d="M423.29 437.20L428.76 443.87L423.29 450.54L417.82 443.87Z" fill="rgb(240,120,120)"/><path d="M428.76 443.87L434.23 450.54L428.76 457.21L423.29 450.54Z" fill="rgb(255,248,248)"/><path d="M434.23 450.54L439.70 457.21L434.23 463.88L428.76 457.21Z" fill="rgb(250,212,212)"/><path d="M439.70 457.21L445.17 463.88L439.70 470.55L434.23 463.88Z" fill="rgb(250,212,212)"/><path d="M445.17 463.88L450.64 470.55L445.17 477.22L439.70 470.55Z" fill="rgb(255,248,248)"/><path d="M450.64 470.55L456.11 477.22L450.64 483.89L445.17 477.22Z" fill="rgb(250,212,212)"/><path d="M379.53 370.50L385.00 377.17L379.53 383.84L374.06 377.17Z" fill="rgb(240,14,14)"/><path d="M385.00 377.17L390.47 383.84L385.00 390.51L379.53 383.84Z" fill="rgb(240,14,14)"/><path d="M390.47 383.84L395.94 390.51L390.47 397.18L385.00 390.51Z" fill="rgb(240,14,14)"/><path d="M395.94 390.51L401.41 397.18L395.94 403.85L390.47 397.18Z" fill="rgb(240,14,14)"/><path d="M401.41 397.18L406.88 403.85L401.41 410.52L395.94 403.85Z" fill="rgb(240,14,14)"/><path d="M406.88 403.85L412.35 410.52L406.88 417.19L401.41 410.52Z" fill="rgb(240,14,14)"/><path d="M412.35 410.52L417.82 417.19L412.35 423.86L406.88 417.19Z" fill="rgb(240,14,14)"/><path d="M417.82 417.19L423.29 423.86L417.82 430.53L412.35 423.86Z" fill="rgb(240,14,14)"/><path d="M423.29 423.86L428.76 430.53L423.29 437.20L417.82 430.53Z" fill="rgb(238,80,80)"/><path d="M428.76 430.53L434.23 437.20L428.76 443.87L423.29 437.20Z" fill="rgb(240,120,120)"/><path d="M434.23 437.20L439.70 443.87L434.23 450.54L428.76 443.87Z" fill="rgb(255,248,248)"/><path d="M439.70 443.87L445.17 450.54L439.70 457.21L434.23 450.54Z" fill="rgb(250,212,212)"/><path d="M445.17 450.54L450.64 457.21L445.17 463.88L439.70 457.21Z" fill="rgb(250,212,212)"/><path d="M450.64 457.21L456.11 463.88L450.64 470.55L445.17 463.88Z" fill="rgb(255,248,248)"/><path d="M456.11 463.88L461.58 470.55L456.11 477.22L450.64 470.55Z" fill="rgb(250,212,212)"/><path d="M390.47 370.50L395.94 377.17L390.47 383.84L385.00 377.17Z" fill="rgb(240,14,14)"/><path d="M395.94 377.17L401.41 383.84L395.94 390.51L390.47 383.84Z" fill="rgb(240,14,14)"/><path d="M401.41 383.84L406.88 390.51L401.41 397.18L395.94 390.51Z" fill="rgb(240,14,14)"/><path d="M406.88 390.51L412.35 397.18L406.88 403.85L401.41 397.18Z" fill="rgb(240,14,14)"/><path d="M412.35 397.18L417.82 403.85L412.35 410.52L406.88 403.85Z" fill="rgb(240,14,14)"/><path d="M417.82 403.85L423.29 410.52L417.82 417.19L412.35 410.52Z" fill="rgb(240,14,14)"/><path d="M423.29 410.52L428.76 417.19L423.29 423.86L417.82 417.19Z" fill="rgb(240,14,14)"/><path d="M428.76 417.19L434.23 423.86L428.76 430.53L423.29 423.86Z" fill="rgb(238,80,80)"/><path d="M434.23 423.86L439.70 430.53L434.23 437.20L428.76 430.53Z" fill="rgb(240,120,120)"/><path d="M439.70 430.53L445.17 437.20L439.70 443.87L434.23 437.20Z" fill="rgb(255,248,248)"/><path d="M445.17 437.20L450.64 443.87L445.17 450.54L439.70 443.87Z" fill="rgb(250,212,212)"/><path d="M450.64 443.87L456.11 450.54L450.64 457.21L445.17 450.54Z" fill="rgb(250,212,212)"/><path d="M456.11 450.54L461.58 457.21L456.11 463.88L450.64 457.21Z" fill="rgb(255,248,248)"/><path d="M461.58 457.21L467.05 463.88L461.58 470.55L456.11 463.88Z" fill="rgb(250,212,212)"/><path d="M401.41 370.50L406.88 377.17L401.41 383.84L395.94 377.17Z" fill="rgb(240,14,14)"/><path d="M406.88 377.17L412.35 383.84L406.88 390.51L401.41 383.84Z" fill="rgb(240,14,14)"/><path d="M412.35 383.84L417.82 390.51L412.35 397.18L406.88 390.51Z" fill="rgb(240,14,14)"/><path d="M417.82 390.51L423.29 397.18L417.82 403.85L412.35 397.18Z" fill="rgb(240,14,14)"/><path d="M423.29 397.18L428.76 403.85L423.29 410.52L417.82 403.85Z" fill="rgb(240,14,14)"/><path d="M428.76 403.85L434.23 410.52L428.76 417.19L423.29 410.52Z" fill="rgb(240,14,14)"/><path d="M434.23 410.52L439.70 417.19L434.23 423.86L428.76 417.19Z" fill="rgb(238,80,80)"/><path d="M439.70 417.19L445.17 423.86L439.70 430.53L434.23 423.86Z" fill="rgb(240,120,120)"/><path d="M445.17 423.86L450.64 430.53L445.17 437.20L439.70 430.53Z" fill="rgb(250,212,212)"/><path d="M450.64 430.53L456.11 437.20L450.64 443.87L445.17 437.20Z" fill="rgb(250,212,212)"/><path d="M456.11 437.20L461.58 443.87L456.11 450.54L450.64 443.87Z" fill="rgb(250,212,212)"/><path d="M461.58 443.87L467.05 450.54L461.58 457.21L456.11 450.54Z" fill="rgb(255,248,248)"/><path d="M467.05 450.54L472.52 457.21L467.05 463.88L461.58 457.21Z" fill="rgb(250,212,212)"/><path d="M412.35 370.50L417.82 377.17L412.35 383.84L406.88 377.17Z" fill="rgb(240,14,14)"/><path d="M417.82 377.17L423.29 383.84L417.82 390.51L412.35 383.84Z" fill="rgb(240,14,14)"/><path d="M423.29 383.84L428.76 390.51L423.29 397.18L417.82 390.51Z" fill="rgb(240,14,14)"/><path d="M428.76 390.51L434.23 397.18L428.76 403.85L423.29 397.18Z" fill="rgb(240,14,14)"/><path d="M434.23 397.18L439.70 403.85L434.23 410.52L428.76 403.85Z" fill="rgb(240,14,14)"/><path d="M439.70 403.85L445.17 410.52L439.70 417.19L434.23 410.52Z" fill="rgb(238,80,80)"/><path d="M445.17 410.52L450.64 417.19L445.17 423.86L439.70 417.19Z" fill="rgb(240,120,120)"/><path d="M450.64 417.19L456.11 423.86L450.64 430.53L445.17 423.86Z" fill="rgb(250,212,212)"/><path d="M456.11 423.86L461.58 430.53L456.11 437.20L450.64 430.53Z" fill="rgb(245,165,165)"/><path d="M461.58 430.53L467.05 437.20L461.58 443.87L456.11 437.20Z" fill="rgb(250,212,212)"/><path d="M467.05 437.20L472.52 443.87L467.05 450.54L461.58 443.87Z" fill="rgb(255,248,248)"/><path d="M472.52 443.87L477.99 450.54L472.52 457.21L467.05 450.54Z" fill="rgb(250,212,212)"/><path d="M423.29 370.50L428.76 377.17L423.29 383.84L417.82 377.17Z" fill="rgb(240,14,14)"/><path d="M428.76 377.17L434.23 383.84L428.76 390.51L423.29 383.84Z" fill="rgb(240,14,14)"/><path d="M434.23 383.84L439.70 390.51L434.23 397.18L428.76 390.51Z" fill="rgb(240,14,14)"/><path d="M439.70 390.51L445.17 397.18L439.70 403.85L434.23 397.18Z" fill="rgb(240,14,14)"/><path d="M445.17 397.18L450.64 403.85L445.17 410.52L439.70 403.85Z" fill="rgb(238,80,80)"/><path d="M450.64 403.85L456.11 410.52L450.64 417.19L445.17 410.52Z" fill="rgb(245,165,165)"/><path d="M456.11 410.52L461.58 417.19L456.11 423.86L450.64 417.19Z" fill="rgb(250,212,212)"/><path d="M461.58 417.19L467.05 423.86L461.58 430.53L456.11 423.86Z" fill="rgb(245,165,165)"/><path d="M467.05 423.86L472.52 430.53L467.05 437.20L461.58 430.53Z" fill="rgb(250,212,212)"/><path d="M472.52 430.53L477.99 437.20L472.52 443.87L467.05 437.20Z" fill="rgb(245,165,165)"/><path d="M477.99 437.20L483.46 443.87L477.99 450.54L472.52 443.87Z" fill="rgb(245,165,165)"/><path d="M434.23 370.50L439.70 377.17L434.23 383.84L428.76 377.17Z" fill="rgb(240,14,14)"/><path d="M439.70 377.17L445.17 383.84L439.70 390.51L434.23 383.84Z" fill="rgb(240,14,14)"/><path d="M445.17 383.84L450.64 390.51L445.17 397.18L439.70 390.51Z" fill="rgb(240,14,14)"/><path d="M450.64 390.51L456.11 397.18L450.64 403.85L445.17 397.18Z" fill="rgb(238,80,80)"/><path d="M456.11 397.18L461.58 403.85L456.11 410.52L450.64 403.85Z" fill="rgb(250,212,212)"/><path d="M461.58 403.85L467.05 410.52L461.58 417.19L456.11 410.52Z" fill="rgb(255,248,248)"/><path d="M467.05 410.52L472.52 417.19L467.05 423.86L461.58 417.19Z" fill="rgb(255,248,248)"/><path d="M472.52 417.19L477.99 423.86L472.52 430.53L467.05 423.86Z" fill="rgb(255,248,248)"/><path d="M477.99 423.86L483.46 430.53L477.99 437.20L472.52 430.53Z" fill="rgb(255,248,248)"/><path d="M483.46 430.53L488.93 437.20L483.46 443.87L477.99 437.20Z" fill="rgb(255,248,248)"/><path d="M445.17 370.50L450.64 377.17L445.17 383.84L439.70 377.17Z" fill="rgb(240,14,14)"/><path d="M450.64 377.17L456.11 383.84L450.64 390.51L445.17 383.84Z" fill="rgb(240,14,14)"/><path d="M456.11 383.84L461.58 390.51L456.11 397.18L450.64 390.51Z" fill="rgb(250,212,212)"/><path d="M461.58 390.51L467.05 397.18L461.58 403.85L456.11 397.18Z" fill="rgb(255,248,248)"/><path d="M467.05 397.18L472.52 403.85L467.05 410.52L461.58 403.85Z" fill="rgb(240,14,14)"/><path d="M472.52 403.85L477.99 410.52L472.52 417.19L467.05 410.52Z" fill="rgb(238,80,80)"/><path d="M477.99 410.52L483.46 417.19L477.99 423.86L472.52 417.19Z" fill="rgb(238,80,80)"/><path d="M483.46 417.19L488.93 423.86L483.46 430.53L477.99 423.86Z" fill="rgb(238,80,80)"/><path d="M488.93 423.86L494.40 430.53L488.93 437.20L483.46 430.53Z" fill="rgb(238,80,80)"/><path d="M456.11 370.50L461.58 377.17L456.11 383.84L450.64 377.17Z" fill="rgb(240,14,14)"/><path d="M461.58 377.17L467.05 383.84L461.58 390.51L456.11 383.84Z" fill="rgb(238,80,80)"/><path d="M467.05 383.84L472.52 390.51L467.05 397.18L461.58 390.51Z" fill="rgb(238,80,80)"/><path d="M472.52 390.51L477.99 397.18L472.52 403.85L467.05 397.18Z" fill="rgb(238,80,80)"/><path d="M477.99 397.18L483.46 403.85L477.99 410.52L472.52 403.85Z" fill="rgb(238,80,80)"/><path d="M483.46 403.85L488.93 410.52L483.46 417.19L477.99 410.52Z" fill="rgb(238,80,80)"/><path d="M488.93 410.52L494.40 417.19L488.93 423.86L483.46 417.19Z" fill="rgb(238,80,80)"/><path d="M494.40 417.19L499.87 423.86L494.40 430.53L488.93 423.86Z" fill="rgb(238,80,80)"/><path d="M467.05 370.50L472.52 377.17L467.05 383.84L461.58 377.17Z" fill="rgb(238,80,80)"/><path d="M472.52 377.17L477.99 383.84L472.52 390.51L467.05 383.84Z" fill="rgb(238,80,80)"/><path d="M477.99 383.84L483.46 390.51L477.99 397.18L472.52 390.51Z" fill="rgb(245,165,165)"/><path d="M483.46 390.51L488.93 397.18L483.46 403.85L477.99 397.18Z" fill="rgb(245,165,165)"/><path d="M488.93 397.18L494.40 403.85L488.93 410.52L483.46 403.85Z" fill="rgb(245,165,165)"/><path d="M494.40 403.85L499.87 410.52L494.40 417.19L488.93 410.52Z" fill="rgb(245,165,165)"/><path d="M499.87 410.52L505.34 417.19L499.87 423.86L494.40 417.19Z" fill="rgb(245,165,165)"/><path d="M477.99 370.50L483.46 377.17L477.99 383.84L472.52 377.17Z" fill="rgb(240,14,14)"/><path d="M483.46 377.17L488.93 383.84L483.46 390.51L477.99 383.84Z" fill="rgb(240,14,14)"/><path d="M488.93 383.84L494.40 390.51L488.93 397.18L483.46 390.51Z" fill="rgb(240,14,14)"/><path d="M494.40 390.51L499.87 397.18L494.40 403.85L488.93 397.18Z" fill="rgb(240,14,14)"/><path d="M499.87 397.18L505.34 403.85L499.87 410.52L494.40 403.85Z" fill="rgb(240,14,14)"/><path d="M505.34 403.85L510.81 410.52L505.34 417.19L499.87 410.52Z" fill="rgb(240,14,14)"/><path d="M488.93 370.50L494.40 377.17L488.93 383.84L483.46 377.17Z" fill="rgb(240,14,14)"/><path d="M494.40 377.17L499.87 383.84L494.40 390.51L488.93 383.84Z" fill="rgb(240,14,14)"/><path d="M499.87 383.84L505.34 390.51L499.87 397.18L494.40 390.51Z" fill="rgb(240,14,14)"/><path d="M505.34 390.51L510.81 397.18L505.34 403.85L499.87 397.18Z" fill="rgb(240,14,14)"/><path d="M510.81 397.18L516.28 403.85L510.81 410.52L505.34 403.85Z" fill="rgb(240,14,14)"/><path d="M499.87 370.50L505.34 377.17L499.87 383.84L494.40 377.17Z" fill="rgb(240,14,14)"/><path d="M505.34 377.17L510.81 383.84L505.34 390.51L499.87 383.84Z" fill="rgb(240,14,14)"/><path d="M510.81 383.84L516.28 390.51L510.81 397.18L505.34 390.51Z" fill="rgb(240,14,14)"/><path d="M516.28 390.51L521.75 397.18L516.28 403.85L510.81 397.18Z" fill="rgb(240,14,14)"/><path d="M510.81 370.50L516.28 377.17L510.81 383.84L505.34 377.17Z" fill="rgb(240,14,14)"/><path d="M516.28 377.17L521.75 383.84L516.28 390.51L510.81 383.84Z" fill="rgb(240,14,14)"/><path d="M521.75 383.84L527.22 390.51L521.75 397.18L516.28 390.51Z" fill="rgb(240,14,14)"/><path d="M521.75 370.50L527.22 377.17L521.75 383.84L516.28 377.17Z" fill="rgb(240,14,14)"/><path d="M527.22 377.17L532.69 383.84L527.22 390.51L521.75 383.84Z" fill="rgb(240,14,14)"/><path d="M532.69 370.50L538.16 377.17L532.69 383.84L527.22 377.17Z" fill="rgb(240,14,14)"/></g>
<g fill="#000" fill-opacity="0.13"><rect x="60.97" y="376.27" width="2.6" height="1.8"/><rect x="66.44" y="382.94" width="2.6" height="1.8"/><rect x="71.91" y="376.27" width="2.6" height="1.8"/><rect x="93.79" y="376.27" width="2.6" height="1.8"/><rect x="99.26" y="382.94" width="2.6" height="1.8"/><rect x="104.73" y="389.61" width="2.6" height="1.8"/><rect x="110.20" y="396.28" width="2.6" height="1.8"/><rect x="115.67" y="402.95" width="2.6" height="1.8"/><rect x="121.14" y="409.62" width="2.6" height="1.8"/><rect x="126.61" y="416.29" width="2.6" height="1.8"/><rect x="132.08" y="422.96" width="2.6" height="1.8"/><rect x="137.55" y="429.63" width="2.6" height="1.8"/><rect x="143.02" y="436.30" width="2.6" height="1.8"/><rect x="104.73" y="376.27" width="2.6" height="1.8"/><rect x="110.20" y="382.94" width="2.6" height="1.8"/><rect x="115.67" y="389.61" width="2.6" height="1.8"/><rect x="121.14" y="396.28" width="2.6" height="1.8"/><rect x="126.61" y="402.95" width="2.6" height="1.8"/><rect x="132.08" y="409.62" width="2.6" height="1.8"/><rect x="137.55" y="416.29" width="2.6" height="1.8"/><rect x="143.02" y="422.96" width="2.6" height="1.8"/><rect x="148.49" y="429.63" width="2.6" height="1.8"/><rect x="115.67" y="376.27" width="2.6" height="1.8"/><rect x="121.14" y="382.94" width="2.6" height="1.8"/><rect x="126.61" y="389.61" width="2.6" height="1.8"/><rect x="132.08" y="396.28" width="2.6" height="1.8"/><rect x="137.55" y="402.95" width="2.6" height="1.8"/><rect x="143.02" y="409.62" width="2.6" height="1.8"/><rect x="148.49" y="416.29" width="2.6" height="1.8"/><rect x="153.96" y="422.96" width="2.6" height="1.8"/><rect x="126.61" y="376.27" width="2.6" height="1.8"/><rect x="132.08" y="382.94" width="2.6" height="1.8"/><rect x="137.55" y="389.61" width="2.6" height="1.8"/><rect x="143.02" y="396.28" width="2.6" height="1.8"/><rect x="148.49" y="402.95" width="2.6" height="1.8"/><rect x="153.96" y="409.62" width="2.6" height="1.8"/><rect x="159.43" y="416.29" width="2.6" height="1.8"/><rect x="137.55" y="376.27" width="2.6" height="1.8"/><rect x="143.02" y="382.94" width="2.6" height="1.8"/><rect x="148.49" y="389.61" width="2.6" height="1.8"/><rect x="153.96" y="396.28" width="2.6" height="1.8"/><rect x="159.43" y="402.95" width="2.6" height="1.8"/><rect x="164.90" y="409.62" width="2.6" height="1.8"/><rect x="148.49" y="376.27" width="2.6" height="1.8"/><rect x="153.96" y="382.94" width="2.6" height="1.8"/><rect x="159.43" y="389.61" width="2.6" height="1.8"/><rect x="164.90" y="396.28" width="2.6" height="1.8"/><rect x="170.37" y="402.95" width="2.6" height="1.8"/><rect x="159.43" y="376.27" width="2.6" height="1.8"/><rect x="164.90" y="382.94" width="2.6" height="1.8"/><rect x="170.37" y="389.61" width="2.6" height="1.8"/><rect x="175.84" y="396.28" width="2.6" height="1.8"/><rect x="170.37" y="376.27" width="2.6" height="1.8"/><rect x="175.84" y="382.94" width="2.6" height="1.8"/><rect x="181.31" y="389.61" width="2.6" height="1.8"/><rect x="181.31" y="376.27" width="2.6" height="1.8"/><rect x="186.78" y="382.94" width="2.6" height="1.8"/><rect x="192.25" y="376.27" width="2.6" height="1.8"/><rect x="214.13" y="376.27" width="2.6" height="1.8"/><rect x="219.60" y="382.94" width="2.6" height="1.8"/><rect x="225.07" y="389.61" width="2.6" height="1.8"/><rect x="230.54" y="396.28" width="2.6" height="1.8"/><rect x="236.01" y="402.95" width="2.6" height="1.8"/><rect x="241.48" y="409.62" width="2.6" height="1.8"/><rect x="246.95" y="416.29" width="2.6" height="1.8"/><rect x="252.42" y="422.96" width="2.6" height="1.8"/><rect x="257.89" y="429.63" width="2.6" height="1.8"/><rect x="263.36" y="436.30" width="2.6" height="1.8"/><rect x="268.83" y="442.97" width="2.6" height="1.8"/><rect x="274.30" y="449.64" width="2.6" height="1.8"/><rect x="279.77" y="456.31" width="2.6" height="1.8"/><rect x="285.24" y="462.98" width="2.6" height="1.8"/><rect x="290.71" y="469.65" width="2.6" height="1.8"/><rect x="296.18" y="476.32" width="2.6" height="1.8"/><rect x="301.65" y="482.99" width="2.6" height="1.8"/><rect x="307.12" y="489.66" width="2.6" height="1.8"/><rect x="312.59" y="496.33" width="2.6" height="1.8"/><rect x="225.07" y="376.27" width="2.6" height="1.8"/><rect x="230.54" y="382.94" width="2.6" height="1.8"/><rect x="236.01" y="389.61" width="2.6" height="1.8"/><rect x="241.48" y="396.28" width="2.6" height="1.8"/><rect x="246.95" y="402.95" width="2.6" height="1.8"/><rect x="252.42" y="409.62" width="2.6" height="1.8"/><rect x="257.89" y="416.29" width="2.6" height="1.8"/><rect x="263.36" y="422.96" width="2.6" height="1.8"/><rect x="268.83" y="429.63" width="2.6" height="1.8"/><rect x="274.30" y="436.30" width="2.6" height="1.8"/><rect x="279.77" y="442.97" width="2.6" height="1.8"/><rect x="285.24" y="449.64" width="2.6" height="1.8"/><rect x="290.71" y="456.31" width="2.6" height="1.8"/><rect x="296.18" y="462.98" width="2.6" height="1.8"/><rect x="301.65" y="469.65" width="2.6" height="1.8"/><rect x="307.12" y="476.32" width="2.6" height="1.8"/><rect x="312.59" y="482.99" width="2.6" height="1.8"/><rect x="318.06" y="489.66" width="2.6" height="1.8"/><rect x="323.53" y="496.33" width="2.6" height="1.8"/><rect x="329.00" y="503.00" width="2.6" height="1.8"/><rect x="334.47" y="509.67" width="2.6" height="1.8"/><rect x="339.94" y="516.34" width="2.6" height="1.8"/><rect x="236.01" y="376.27" width="2.6" height="1.8"/><rect x="241.48" y="382.94" width="2.6" height="1.8"/><rect x="246.95" y="389.61" width="2.6" height="1.8"/><rect x="252.42" y="396.28" width="2.6" height="1.8"/><rect x="257.89" y="402.95" width="2.6" height="1.8"/><rect x="263.36" y="409.62" width="2.6" height="1.8"/><rect x="268.83" y="416.29" width="2.6" height="1.8"/><rect x="274.30" y="422.96" width="2.6" height="1.8"/><rect x="279.77" y="429.63" width="2.6" height="1.8"/><rect x="285.24" y="436.30" width="2.6" height="1.8"/><rect x="290.71" y="442.97" width="2.6" height="1.8"/><rect x="296.18" y="449.64" width="2.6" height="1.8"/><rect x="301.65" y="456.31" width="2.6" height="1.8"/><rect x="307.12" y="462.98" width="2.6" height="1.8"/><rect x="312.59" y="469.65" width="2.6" height="1.8"/><rect x="318.06" y="476.32" width="2.6" height="1.8"/><rect x="323.53" y="482.99" width="2.6" height="1.8"/><rect x="329.00" y="489.66" width="2.6" height="1.8"/><rect x="334.47" y="496.33" width="2.6" height="1.8"/><rect x="339.94" y="503.00" width="2.6" height="1.8"/><rect x="345.41" y="509.67" width="2.6" height="1.8"/><rect x="246.95" y="376.27" width="2.6" height="1.8"/><rect x="252.42" y="382.94" width="2.6" height="1.8"/><rect x="257.89" y="389.61" width="2.6" height="1.8"/><rect x="263.36" y="396.28" width="2.6" height="1.8"/><rect x="268.83" y="402.95" width="2.6" height="1.8"/><rect x="274.30" y="409.62" width="2.6" height="1.8"/><rect x="279.77" y="416.29" width="2.6" height="1.8"/><rect x="285.24" y="422.96" width="2.6" height="1.8"/><rect x="290.71" y="429.63" width="2.6" height="1.8"/><rect x="296.18" y="436.30" width="2.6" height="1.8"/><rect x="301.65" y="442.97" width="2.6" height="1.8"/><rect x="307.12" y="449.64" width="2.6" height="1.8"/><rect x="312.59" y="456.31" width="2.6" height="1.8"/><rect x="318.06" y="462.98" width="2.6" height="1.8"/><rect x="323.53" y="469.65" width="2.6" height="1.8"/><rect x="329.00" y="476.32" width="2.6" height="1.8"/><rect x="334.47" y="482.99" width="2.6" height="1.8"/><rect x="339.94" y="489.66" width="2.6" height="1.8"/><rect x="345.41" y="496.33" width="2.6" height="1.8"/><rect x="350.88" y="503.00" width="2.6" height="1.8"/><rect x="257.89" y="376.27" width="2.6" height="1.8"/><rect x="263.36" y="382.94" width="2.6" height="1.8"/><rect x="268.83" y="389.61" width="2.6" height="1.8"/><rect x="274.30" y="396.28" width="2.6" height="1.8"/><rect x="279.77" y="402.95" width="2.6" height="1.8"/><rect x="285.24" y="409.62" width="2.6" height="1.8"/><rect x="290.71" y="416.29" width="2.6" height="1.8"/><rect x="296.18" y="422.96" width="2.6" height="1.8"/><rect x="301.65" y="429.63" width="2.6" height="1.8"/><rect x="307.12" y="436.30" width="2.6" height="1.8"/><rect x="312.59" y="442.97" width="2.6" height="1.8"/><rect x="318.06" y="449.64" width="2.6" height="1.8"/><rect x="323.53" y="456.31" width="2.6" height="1.8"/><rect x="329.00" y="462.98" width="2.6" height="1.8"/><rect x="334.47" y="469.65" width="2.6" height="1.8"/><rect x="339.94" y="476.32" width="2.6" height="1.8"/><rect x="345.41" y="482.99" width="2.6" height="1.8"/><rect x="350.88" y="489.66" width="2.6" height="1.8"/><rect x="356.35" y="496.33" width="2.6" height="1.8"/><rect x="361.82" y="503.00" width="2.6" height="1.8"/><rect x="268.83" y="376.27" width="2.6" height="1.8"/><rect x="274.30" y="382.94" width="2.6" height="1.8"/><rect x="279.77" y="389.61" width="2.6" height="1.8"/><rect x="285.24" y="396.28" width="2.6" height="1.8"/><rect x="290.71" y="402.95" width="2.6" height="1.8"/><rect x="296.18" y="409.62" width="2.6" height="1.8"/><rect x="301.65" y="416.29" width="2.6" height="1.8"/><rect x="307.12" y="422.96" width="2.6" height="1.8"/><rect x="312.59" y="429.63" width="2.6" height="1.8"/><rect x="318.06" y="436.30" width="2.6" height="1.8"/><rect x="323.53" y="442.97" width="2.6" height="1.8"/><rect x="329.00" y="449.64" width="2.6" height="1.8"/><rect x="334.47" y="456.31" width="2.6" height="1.8"/><rect x="339.94" y="462.98" width="2.6" height="1.8"/><rect x="345.41" y="469.65" width="2.6" height="1.8"/><rect x="350.88" y="476.32" width="2.6" height="1.8"/><rect x="356.35" y="482.99" width="2.6" height="1.8"/><rect x="361.82" y="489.66" width="2.6" height="1.8"/><rect x="367.29" y="496.33" width="2.6" height="1.8"/><rect x="279.77" y="376.27" width="2.6" height="1.8"/><rect x="285.24" y="382.94" width="2.6" height="1.8"/><rect x="290.71" y="389.61" width="2.6" height="1.8"/><rect x="296.18" y="396.28" width="2.6" height="1.8"/><rect x="301.65" y="402.95" width="2.6" height="1.8"/><rect x="307.12" y="409.62" width="2.6" height="1.8"/><rect x="312.59" y="416.29" width="2.6" height="1.8"/><rect x="318.06" y="422.96" width="2.6" height="1.8"/><rect x="323.53" y="429.63" width="2.6" height="1.8"/><rect x="329.00" y="436.30" width="2.6" height="1.8"/><rect x="334.47" y="442.97" width="2.6" height="1.8"/><rect x="339.94" y="449.64" width="2.6" height="1.8"/><rect x="345.41" y="456.31" width="2.6" height="1.8"/><rect x="350.88" y="462.98" width="2.6" height="1.8"/><rect x="356.35" y="469.65" width="2.6" height="1.8"/><rect x="361.82" y="476.32" width="2.6" height="1.8"/><rect x="367.29" y="482.99" width="2.6" height="1.8"/><rect x="372.76" y="489.66" width="2.6" height="1.8"/><rect x="378.23" y="496.33" width="2.6" height="1.8"/><rect x="290.71" y="376.27" width="2.6" height="1.8"/><rect x="296.18" y="382.94" width="2.6" height="1.8"/><rect x="301.65" y="389.61" width="2.6" height="1.8"/><rect x="307.12" y="396.28" width="2.6" height="1.8"/><rect x="312.59" y="402.95" width="2.6" height="1.8"/><rect x="318.06" y="409.62" width="2.6" height="1.8"/><rect x="323.53" y="416.29" width="2.6" height="1.8"/><rect x="329.00" y="422.96" width="2.6" height="1.8"/><rect x="334.47" y="429.63" width="2.6" height="1.8"/><rect x="339.94" y="436.30" width="2.6" height="1.8"/><rect x="345.41" y="442.97" width="2.6" height="1.8"/><rect x="350.88" y="449.64" width="2.6" height="1.8"/><rect x="356.35" y="456.31" width="2.6" height="1.8"/><rect x="361.82" y="462.98" width="2.6" height="1.8"/><rect x="367.29" y="469.65" width="2.6" height="1.8"/><rect x="372.76" y="476.32" width="2.6" height="1.8"/><rect x="378.23" y="482.99" width="2.6" height="1.8"/><rect x="383.70" y="489.66" width="2.6" height="1.8"/><rect x="301.65" y="376.27" width="2.6" height="1.8"/><rect x="307.12" y="382.94" width="2.6" height="1.8"/><rect x="312.59" y="389.61" width="2.6" height="1.8"/><rect x="318.06" y="396.28" width="2.6" height="1.8"/><rect x="323.53" y="402.95" width="2.6" height="1.8"/><rect x="329.00" y="409.62" width="2.6" height="1.8"/><rect x="334.47" y="416.29" width="2.6" height="1.8"/><rect x="339.94" y="422.96" width="2.6" height="1.8"/><rect x="345.41" y="429.63" width="2.6" height="1.8"/><rect x="350.88" y="436.30" width="2.6" height="1.8"/><rect x="356.35" y="442.97" width="2.6" height="1.8"/><rect x="361.82" y="449.64" width="2.6" height="1.8"/><rect x="367.29" y="456.31" width="2.6" height="1.8"/><rect x="372.76" y="462.98" width="2.6" height="1.8"/><rect x="378.23" y="469.65" width="2.6" height="1.8"/><rect x="383.70" y="476.32" width="2.6" height="1.8"/><rect x="389.17" y="482.99" width="2.6" height="1.8"/><rect x="394.64" y="489.66" width="2.6" height="1.8"/><rect x="312.59" y="376.27" width="2.6" height="1.8"/><rect x="318.06" y="382.94" width="2.6" height="1.8"/><rect x="323.53" y="389.61" width="2.6" height="1.8"/><rect x="329.00" y="396.28" width="2.6" height="1.8"/><rect x="334.47" y="402.95" width="2.6" height="1.8"/><rect x="339.94" y="409.62" width="2.6" height="1.8"/><rect x="345.41" y="416.29" width="2.6" height="1.8"/><rect x="350.88" y="422.96" width="2.6" height="1.8"/><rect x="356.35" y="429.63" width="2.6" height="1.8"/><rect x="361.82" y="436.30" width="2.6" height="1.8"/><rect x="367.29" y="442.97" width="2.6" height="1.8"/><rect x="372.76" y="449.64" width="2.6" height="1.8"/><rect x="378.23" y="456.31" width="2.6" height="1.8"/><rect x="383.70" y="462.98" width="2.6" height="1.8"/><rect x="389.17" y="469.65" width="2.6" height="1.8"/><rect x="394.64" y="476.32" width="2.6" height="1.8"/><rect x="400.11" y="482.99" width="2.6" height="1.8"/><rect x="405.58" y="489.66" width="2.6" height="1.8"/><rect x="411.05" y="496.33" width="2.6" height="1.8"/><rect x="323.53" y="376.27" width="2.6" height="1.8"/><rect x="329.00" y="382.94" width="2.6" height="1.8"/><rect x="334.47" y="389.61" width="2.6" height="1.8"/><rect x="339.94" y="396.28" width="2.6" height="1.8"/><rect x="345.41" y="402.95" width="2.6" height="1.8"/><rect x="350.88" y="409.62" width="2.6" height="1.8"/><rect x="356.35" y="416.29" width="2.6" height="1.8"/><rect x="361.82" y="422.96" width="2.6" height="1.8"/><rect x="367.29" y="429.63" width="2.6" height="1.8"/><rect x="372.76" y="436.30" width="2.6" height="1.8"/><rect x="378.23" y="442.97" width="2.6" height="1.8"/><rect x="383.70" y="449.64" width="2.6" height="1.8"/><rect x="389.17" y="456.31" width="2.6" height="1.8"/><rect x="394.64" y="462.98" width="2.6" height="1.8"/><rect x="400.11" y="469.65" width="2.6" height="1.8"/><rect x="405.58" y="476.32" width="2.6" height="1.8"/><rect x="411.05" y="482.99" width="2.6" height="1.8"/><rect x="416.52" y="489.66" width="2.6" height="1.8"/><rect x="421.99" y="496.33" width="2.6" height="1.8"/><rect x="427.46" y="503.00" width="2.6" height="1.8"/><rect x="334.47" y="376.27" width="2.6" height="1.8"/><rect x="339.94" y="382.94" width="2.6" height="1.8"/><rect x="345.41" y="389.61" width="2.6" height="1.8"/><rect x="350.88" y="396.28" width="2.6" height="1.8"/><rect x="356.35" y="402.95" width="2.6" height="1.8"/><rect x="361.82" y="409.62" width="2.6" height="1.8"/><rect x="367.29" y="416.29" width="2.6" height="1.8"/><rect x="372.76" y="422.96" width="2.6" height="1.8"/><rect x="378.23" y="429.63" width="2.6" height="1.8"/><rect x="383.70" y="436.30" width="2.6" height="1.8"/><rect x="389.17" y="442.97" width="2.6" height="1.8"/><rect x="394.64" y="449.64" width="2.6" height="1.8"/><rect x="400.11" y="456.31" width="2.6" height="1.8"/><rect x="405.58" y="462.98" width="2.6" height="1.8"/><rect x="411.05" y="469.65" width="2.6" height="1.8"/><rect x="416.52" y="476.32" width="2.6" height="1.8"/><rect x="421.99" y="482.99" width="2.6" height="1.8"/><rect x="427.46" y="489.66" width="2.6" height="1.8"/><rect x="432.93" y="496.33" width="2.6" height="1.8"/><rect x="345.41" y="376.27" width="2.6" height="1.8"/><rect x="350.88" y="382.94" width="2.6" height="1.8"/><rect x="356.35" y="389.61" width="2.6" height="1.8"/><rect x="361.82" y="396.28" width="2.6" height="1.8"/><rect x="367.29" y="402.95" width="2.6" height="1.8"/><rect x="372.76" y="409.62" width="2.6" height="1.8"/><rect x="378.23" y="416.29" width="2.6" height="1.8"/><rect x="383.70" y="422.96" width="2.6" height="1.8"/><rect x="389.17" y="429.63" width="2.6" height="1.8"/><rect x="394.64" y="436.30" width="2.6" height="1.8"/><rect x="400.11" y="442.97" width="2.6" height="1.8"/><rect x="405.58" y="449.64" width="2.6" height="1.8"/><rect x="411.05" y="456.31" width="2.6" height="1.8"/><rect x="416.52" y="462.98" width="2.6" height="1.8"/><rect x="421.99" y="469.65" width="2.6" height="1.8"/><rect x="427.46" y="476.32" width="2.6" height="1.8"/><rect x="432.93" y="482.99" width="2.6" height="1.8"/><rect x="438.40" y="489.66" width="2.6" height="1.8"/><rect x="356.35" y="376.27" width="2.6" height="1.8"/><rect x="361.82" y="382.94" width="2.6" height="1.8"/><rect x="367.29" y="389.61" width="2.6" height="1.8"/><rect x="372.76" y="396.28" width="2.6" height="1.8"/><rect x="378.23" y="402.95" width="2.6" height="1.8"/><rect x="383.70" y="409.62" width="2.6" height="1.8"/><rect x="389.17" y="416.29" width="2.6" height="1.8"/><rect x="394.64" y="422.96" width="2.6" height="1.8"/><rect x="400.11" y="429.63" width="2.6" height="1.8"/><rect x="405.58" y="436.30" width="2.6" height="1.8"/><rect x="411.05" y="442.97" width="2.6" height="1.8"/><rect x="416.52" y="449.64" width="2.6" height="1.8"/><rect x="421.99" y="456.31" width="2.6" height="1.8"/><rect x="427.46" y="462.98" width="2.6" height="1.8"/><rect x="432.93" y="469.65" width="2.6" height="1.8"/><rect x="438.40" y="476.32" width="2.6" height="1.8"/><rect x="443.87" y="482.99" width="2.6" height="1.8"/><rect x="367.29" y="376.27" width="2.6" height="1.8"/><rect x="372.76" y="382.94" width="2.6" height="1.8"/><rect x="378.23" y="389.61" width="2.6" height="1.8"/><rect x="383.70" y="396.28" width="2.6" height="1.8"/><rect x="389.17" y="402.95" width="2.6" height="1.8"/><rect x="394.64" y="409.62" width="2.6" height="1.8"/><rect x="400.11" y="416.29" width="2.6" height="1.8"/><rect x="405.58" y="422.96" width="2.6" height="1.8"/><rect x="411.05" y="429.63" width="2.6" height="1.8"/><rect x="416.52" y="436.30" width="2.6" height="1.8"/><rect x="421.99" y="442.97" width="2.6" height="1.8"/><rect x="427.46" y="449.64" width="2.6" height="1.8"/><rect x="432.93" y="456.31" width="2.6" height="1.8"/><rect x="438.40" y="462.98" width="2.6" height="1.8"/><rect x="443.87" y="469.65" width="2.6" height="1.8"/><rect x="449.34" y="476.32" width="2.6" height="1.8"/><rect x="378.23" y="376.27" width="2.6" height="1.8"/><rect x="383.70" y="382.94" width="2.6" height="1.8"/><rect x="389.17" y="389.61" width="2.6" height="1.8"/><rect x="394.64" y="396.28" width="2.6" height="1.8"/><rect x="400.11" y="402.95" width="2.6" height="1.8"/><rect x="405.58" y="409.62" width="2.6" height="1.8"/><rect x="411.05" y="416.29" width="2.6" height="1.8"/><rect x="416.52" y="422.96" width="2.6" height="1.8"/><rect x="421.99" y="429.63" width="2.6" height="1.8"/><rect x="427.46" y="436.30" width="2.6" height="1.8"/><rect x="432.93" y="442.97" width="2.6" height="1.8"/><rect x="438.40" y="449.64" width="2.6" height="1.8"/><rect x="443.87" y="456.31" width="2.6" height="1.8"/><rect x="449.34" y="462.98" width="2.6" height="1.8"/><rect x="454.81" y="469.65" width="2.6" height="1.8"/><rect x="389.17" y="376.27" width="2.6" height="1.8"/><rect x="394.64" y="382.94" width="2.6" height="1.8"/><rect x="400.11" y="389.61" width="2.6" height="1.8"/><rect x="405.58" y="396.28" width="2.6" height="1.8"/><rect x="411.05" y="402.95" width="2.6" height="1.8"/><rect x="416.52" y="409.62" width="2.6" height="1.8"/><rect x="421.99" y="416.29" width="2.6" height="1.8"/><rect x="427.46" y="422.96" width="2.6" height="1.8"/><rect x="432.93" y="429.63" width="2.6" height="1.8"/><rect x="438.40" y="436.30" width="2.6" height="1.8"/><rect x="443.87" y="442.97" width="2.6" height="1.8"/><rect x="449.34" y="449.64" width="2.6" height="1.8"/><rect x="454.81" y="456.31" width="2.6" height="1.8"/><rect x="460.28" y="462.98" width="2.6" height="1.8"/><rect x="400.11" y="376.27" width="2.6" height="1.8"/><rect x="405.58" y="382.94" width="2.6" height="1.8"/><rect x="411.05" y="389.61" width="2.6" height="1.8"/><rect x="416.52" y="396.28" width="2.6" height="1.8"/><rect x="421.99" y="402.95" width="2.6" height="1.8"/><rect x="427.46" y="409.62" width="2.6" height="1.8"/><rect x="432.93" y="416.29" width="2.6" height="1.8"/><rect x="438.40" y="422.96" width="2.6" height="1.8"/><rect x="443.87" y="429.63" width="2.6" height="1.8"/><rect x="449.34" y="436.30" width="2.6" height="1.8"/><rect x="454.81" y="442.97" width="2.6" height="1.8"/><rect x="460.28" y="449.64" width="2.6" height="1.8"/><rect x="465.75" y="456.31" width="2.6" height="1.8"/><rect x="411.05" y="376.27" width="2.6" height="1.8"/><rect x="416.52" y="382.94" width="2.6" height="1.8"/><rect x="421.99" y="389.61" width="2.6" height="1.8"/><rect x="427.46" y="396.28" width="2.6" height="1.8"/><rect x="432.93" y="402.95" width="2.6" height="1.8"/><rect x="438.40" y="409.62" width="2.6" height="1.8"/><rect x="443.87" y="416.29" width="2.6" height="1.8"/><rect x="449.34" y="422.96" width="2.6" height="1.8"/><rect x="454.81" y="429.63" width="2.6" height="1.8"/><rect x="460.28" y="436.30" width="2.6" height="1.8"/><rect x="465.75" y="442.97" width="2.6" height="1.8"/><rect x="471.22" y="449.64" width="2.6" height="1.8"/><rect x="421.99" y="376.27" width="2.6" height="1.8"/><rect x="427.46" y="382.94" width="2.6" height="1.8"/><rect x="432.93" y="389.61" width="2.6" height="1.8"/><rect x="438.40" y="396.28" width="2.6" height="1.8"/><rect x="443.87" y="402.95" width="2.6" height="1.8"/><rect x="449.34" y="409.62" width="2.6" height="1.8"/><rect x="454.81" y="416.29" width="2.6" height="1.8"/><rect x="460.28" y="422.96" width="2.6" height="1.8"/><rect x="465.75" y="429.63" width="2.6" height="1.8"/><rect x="471.22" y="436.30" width="2.6" height="1.8"/><rect x="476.69" y="442.97" width="2.6" height="1.8"/><rect x="432.93" y="376.27" width="2.6" height="1.8"/><rect x="438.40" y="382.94" width="2.6" height="1.8"/><rect x="443.87" y="389.61" width="2.6" height="1.8"/><rect x="449.34" y="396.28" width="2.6" height="1.8"/><rect x="454.81" y="402.95" width="2.6" height="1.8"/><rect x="460.28" y="409.62" width="2.6" height="1.8"/><rect x="465.75" y="416.29" width="2.6" height="1.8"/><rect x="471.22" y="422.96" width="2.6" height="1.8"/><rect x="476.69" y="429.63" width="2.6" height="1.8"/><rect x="482.16" y="436.30" width="2.6" height="1.8"/><rect x="443.87" y="376.27" width="2.6" height="1.8"/><rect x="449.34" y="382.94" width="2.6" height="1.8"/><rect x="454.81" y="389.61" width="2.6" height="1.8"/><rect x="460.28" y="396.28" width="2.6" height="1.8"/><rect x="465.75" y="402.95" width="2.6" height="1.8"/><rect x="471.22" y="409.62" width="2.6" height="1.8"/><rect x="476.69" y="416.29" width="2.6" height="1.8"/><rect x="482.16" y="422.96" width="2.6" height="1.8"/><rect x="487.63" y="429.63" width="2.6" height="1.8"/><rect x="454.81" y="376.27" width="2.6" height="1.8"/><rect x="460.28" y="382.94" width="2.6" height="1.8"/><rect x="465.75" y="389.61" width="2.6" height="1.8"/><rect x="471.22" y="396.28" width="2.6" height="1.8"/><rect x="476.69" y="402.95" width="2.6" height="1.8"/><rect x="482.16" y="409.62" width="2.6" height="1.8"/><rect x="487.63" y="416.29" width="2.6" height="1.8"/><rect x="493.10" y="422.96" width="2.6" height="1.8"/><rect x="465.75" y="376.27" width="2.6" height="1.8"/><rect x="471.22" y="382.94" width="2.6" height="1.8"/><rect x="476.69" y="389.61" width="2.6" height="1.8"/><rect x="482.16" y="396.28" width="2.6" height="1.8"/><rect x="487.63" y="402.95" width="2.6" height="1.8"/><rect x="493.10" y="409.62" width="2.6" height="1.8"/><rect x="498.57" y="416.29" width="2.6" height="1.8"/><rect x="476.69" y="376.27" width="2.6" height="1.8"/><rect x="482.16" y="382.94" width="2.6" height="1.8"/><rect x="487.63" y="389.61" width="2.6" height="1.8"/><rect x="493.10" y="396.28" width="2.6" height="1.8"/><rect x="498.57" y="402.95" width="2.6" height="1.8"/><rect x="504.04" y="409.62" width="2.6" height="1.8"/><rect x="487.63" y="376.27" width="2.6" height="1.8"/><rect x="493.10" y="382.94" width="2.6" height="1.8"/><rect x="498.57" y="389.61" width="2.6" height="1.8"/><rect x="504.04" y="396.28" width="2.6" height="1.8"/><rect x="509.51" y="402.95" width="2.6" height="1.8"/><rect x="498.57" y="376.27" width="2.6" height="1.8"/><rect x="504.04" y="382.94" width="2.6" height="1.8"/><rect x="509.51" y="389.61" width="2.6" height="1.8"/><rect x="514.98" y="396.28" width="2.6" height="1.8"/><rect x="509.51" y="376.27" width="2.6" height="1.8"/><rect x="514.98" y="382.94" width="2.6" height="1.8"/><rect x="520.45" y="389.61" width="2.6" height="1.8"/><rect x="520.45" y="376.27" width="2.6" height="1.8"/><rect x="525.92" y="382.94" width="2.6" height="1.8"/><rect x="531.39" y="376.27" width="2.6" height="1.8"/></g>
<g stroke="#8d8a86" stroke-width="0.4" stroke-opacity="0.7" fill="none"><path d="M57.6 319.6L56.8 329.5V331"/><path d="M58.2 319.6L67.7 329.5V331"/><path d="M58.8 319.6L78.7 329.5V331"/><path d="M150.0 319.6L89.6 329.5V331"/><path d="M193.5 319.6L100.6 329.5V331"/><path d="M200.1 319.6L111.5 329.5V331"/><path d="M206.7 319.6L122.4 329.5V331"/><path d="M213.3 319.6L133.4 329.5V331"/><path d="M219.9 319.6L144.3 329.5V331"/><path d="M226.6 319.6L155.3 329.5V331"/><path d="M233.2 319.6L166.2 329.5V331"/><path d="M239.8 319.6L177.1 329.5V331"/><path d="M246.4 319.6L188.1 329.5V331"/><path d="M253.0 319.6L199.0 329.5V331"/><path d="M372.0 319.6L210.0 329.5V331"/><path d="M386.0 319.6L220.9 329.5V331"/><path d="M390.9 319.6L231.8 329.5V331"/><path d="M395.8 319.6L242.8 329.5V331"/><path d="M400.8 319.6L253.7 329.5V331"/><path d="M405.7 319.6L264.7 329.5V331"/><path d="M410.6 319.6L275.6 329.5V331"/><path d="M415.5 319.6L286.5 329.5V331"/><path d="M420.4 319.6L297.5 329.5V331"/><path d="M425.3 319.6L308.4 329.5V331"/><path d="M430.2 319.6L319.4 329.5V331"/><path d="M435.2 319.6L330.3 329.5V331"/><path d="M440.1 319.6L341.2 329.5V331"/><path d="M445.0 319.6L352.2 329.5V331"/><path d="M464.0 319.6L363.1 329.5V331"/><path d="M468.0 319.6L374.1 329.5V331"/><path d="M472.0 319.6L385.0 329.5V331"/><path d="M476.0 319.6L395.9 329.5V331"/><path d="M480.0 319.6L406.9 329.5V331"/><path d="M484.0 319.6L417.8 329.5V331"/><path d="M488.0 319.6L428.8 329.5V331"/><path d="M492.0 319.6L439.7 329.5V331"/><path d="M496.0 319.6L450.6 329.5V331"/><path d="M500.0 319.6L461.6 329.5V331"/><path d="M510.0 319.6L472.5 329.5V331"/><path d="M514.5 319.6L483.5 329.5V331"/><path d="M519.0 319.6L494.4 329.5V331"/><path d="M523.5 319.6L505.3 329.5V331"/><path d="M528.0 319.6L516.3 329.5V331"/><path d="M532.5 319.6L527.2 329.5V331"/><path d="M537.0 319.6L538.2 329.5V331"/></g>
<g fill="#9a9793"><rect x="193.2" y="316.3" width="0.6" height="2.8"/><rect x="252.7" y="316.3" width="0.6" height="2.8"/><rect x="385.7" y="316.3" width="0.6" height="2.8"/><rect x="444.7" y="316.3" width="0.6" height="2.8"/><rect x="463.7" y="316.3" width="0.6" height="2.8"/><rect x="499.7" y="316.3" width="0.6" height="2.8"/><rect x="509.7" y="316.3" width="0.6" height="2.8"/><rect x="536.7" y="316.3" width="0.6" height="2.8"/></g>
<g><rect x="56.1" y="331.2" width="1.3" height="7.6" fill="#74726f"/><rect x="56.1" y="339.6" width="1.3" height="6" fill="#74726f"/><rect x="56.1" y="347" width="1.3" height="8.6" fill="#74726f"/><rect x="67.1" y="331.2" width="1.3" height="7.6" fill="#74726f"/><rect x="67.1" y="339.6" width="1.3" height="6" fill="#74726f"/><rect x="67.1" y="347" width="1.3" height="8.6" fill="#74726f"/><rect x="78.0" y="331.2" width="1.3" height="7.6" fill="#74726f"/><rect x="78.0" y="339.6" width="1.3" height="6" fill="#74726f"/><rect x="78.0" y="347" width="1.3" height="8.6" fill="#74726f"/><rect x="89.0" y="331.2" width="1.3" height="7.6" fill="#a3a19d"/><rect x="89.0" y="339.6" width="1.3" height="6" fill="#a3a19d"/><rect x="89.0" y="347" width="1.3" height="8.6" fill="#a3a19d"/><rect x="99.9" y="331.2" width="1.3" height="7.6" fill="#74726f"/><rect x="99.9" y="339.6" width="1.3" height="6" fill="#74726f"/><rect x="99.9" y="347" width="1.3" height="8.6" fill="#74726f"/><rect x="110.8" y="331.2" width="1.3" height="7.6" fill="#74726f"/><rect x="110.8" y="339.6" width="1.3" height="6" fill="#74726f"/><rect x="110.8" y="347" width="1.3" height="8.6" fill="#74726f"/><rect x="121.8" y="331.2" width="1.3" height="7.6" fill="#74726f"/><rect x="121.8" y="339.6" width="1.3" height="6" fill="#74726f"/><rect x="121.8" y="347" width="1.3" height="8.6" fill="#74726f"/><rect x="132.7" y="331.2" width="1.3" height="7.6" fill="#74726f"/><rect x="132.7" y="339.6" width="1.3" height="6" fill="#74726f"/><rect x="132.7" y="347" width="1.3" height="8.6" fill="#74726f"/><rect x="143.7" y="331.2" width="1.3" height="7.6" fill="#74726f"/><rect x="143.7" y="339.6" width="1.3" height="6" fill="#74726f"/><rect x="143.7" y="347" width="1.3" height="8.6" fill="#74726f"/><rect x="154.6" y="331.2" width="1.3" height="7.6" fill="#74726f"/><rect x="154.6" y="339.6" width="1.3" height="6" fill="#74726f"/><rect x="154.6" y="347" width="1.3" height="8.6" fill="#74726f"/><rect x="165.5" y="331.2" width="1.3" height="7.6" fill="#74726f"/><rect x="165.5" y="339.6" width="1.3" height="6" fill="#74726f"/><rect x="165.5" y="347" width="1.3" height="8.6" fill="#74726f"/><rect x="176.5" y="331.2" width="1.3" height="7.6" fill="#74726f"/><rect x="176.5" y="339.6" width="1.3" height="6" fill="#74726f"/><rect x="176.5" y="347" width="1.3" height="8.6" fill="#74726f"/><rect x="187.4" y="331.2" width="1.3" height="7.6" fill="#74726f"/><rect x="187.4" y="339.6" width="1.3" height="6" fill="#74726f"/><rect x="187.4" y="347" width="1.3" height="8.6" fill="#74726f"/><rect x="198.4" y="331.2" width="1.3" height="7.6" fill="#74726f"/><rect x="198.4" y="339.6" width="1.3" height="6" fill="#74726f"/><rect x="198.4" y="347" width="1.3" height="8.6" fill="#74726f"/><rect x="209.3" y="331.2" width="1.3" height="7.6" fill="#a3a19d"/><rect x="209.3" y="339.6" width="1.3" height="6" fill="#a3a19d"/><rect x="209.3" y="347" width="1.3" height="8.6" fill="#a3a19d"/><rect x="220.2" y="331.2" width="1.3" height="7.6" fill="#74726f"/><rect x="220.2" y="339.6" width="1.3" height="6" fill="#74726f"/><rect x="220.2" y="347" width="1.3" height="8.6" fill="#74726f"/><rect x="231.2" y="331.2" width="1.3" height="7.6" fill="#74726f"/><rect x="231.2" y="339.6" width="1.3" height="6" fill="#74726f"/><rect x="231.2" y="347" width="1.3" height="8.6" fill="#74726f"/><rect x="242.1" y="331.2" width="1.3" height="7.6" fill="#74726f"/><rect x="242.1" y="339.6" width="1.3" height="6" fill="#74726f"/><rect x="242.1" y="347" width="1.3" height="8.6" fill="#74726f"/><rect x="253.1" y="331.2" width="1.3" height="7.6" fill="#74726f"/><rect x="253.1" y="339.6" width="1.3" height="6" fill="#74726f"/><rect x="253.1" y="347" width="1.3" height="8.6" fill="#74726f"/><rect x="264.0" y="331.2" width="1.3" height="7.6" fill="#74726f"/><rect x="264.0" y="339.6" width="1.3" height="6" fill="#74726f"/><rect x="264.0" y="347" width="1.3" height="8.6" fill="#74726f"/><rect x="274.9" y="331.2" width="1.3" height="7.6" fill="#74726f"/><rect x="274.9" y="339.6" width="1.3" height="6" fill="#74726f"/><rect x="274.9" y="347" width="1.3" height="8.6" fill="#74726f"/><rect x="285.9" y="331.2" width="1.3" height="7.6" fill="#74726f"/><rect x="285.9" y="339.6" width="1.3" height="6" fill="#74726f"/><rect x="285.9" y="347" width="1.3" height="8.6" fill="#74726f"/><rect x="296.8" y="331.2" width="1.3" height="7.6" fill="#74726f"/><rect x="296.8" y="339.6" width="1.3" height="6" fill="#74726f"/><rect x="296.8" y="347" width="1.3" height="8.6" fill="#74726f"/><rect x="307.8" y="331.2" width="1.3" height="7.6" fill="#74726f"/><rect x="307.8" y="339.6" width="1.3" height="6" fill="#74726f"/><rect x="307.8" y="347" width="1.3" height="8.6" fill="#74726f"/><rect x="318.7" y="331.2" width="1.3" height="7.6" fill="#74726f"/><rect x="318.7" y="339.6" width="1.3" height="6" fill="#74726f"/><rect x="318.7" y="347" width="1.3" height="8.6" fill="#74726f"/><rect x="329.7" y="331.2" width="1.3" height="7.6" fill="#74726f"/><rect x="329.7" y="339.6" width="1.3" height="6" fill="#74726f"/><rect x="329.7" y="347" width="1.3" height="8.6" fill="#74726f"/><rect x="340.6" y="331.2" width="1.3" height="7.6" fill="#74726f"/><rect x="340.6" y="339.6" width="1.3" height="6" fill="#74726f"/><rect x="340.6" y="347" width="1.3" height="8.6" fill="#74726f"/><rect x="351.5" y="331.2" width="1.3" height="7.6" fill="#74726f"/><rect x="351.5" y="339.6" width="1.3" height="6" fill="#74726f"/><rect x="351.5" y="347" width="1.3" height="8.6" fill="#74726f"/><rect x="362.5" y="331.2" width="1.3" height="7.6" fill="#74726f"/><rect x="362.5" y="339.6" width="1.3" height="6" fill="#74726f"/><rect x="362.5" y="347" width="1.3" height="8.6" fill="#74726f"/><rect x="373.4" y="331.2" width="1.3" height="7.6" fill="#74726f"/><rect x="373.4" y="339.6" width="1.3" height="6" fill="#74726f"/><rect x="373.4" y="347" width="1.3" height="8.6" fill="#74726f"/><rect x="384.4" y="331.2" width="1.3" height="7.6" fill="#74726f"/><rect x="384.4" y="339.6" width="1.3" height="6" fill="#74726f"/><rect x="384.4" y="347" width="1.3" height="8.6" fill="#74726f"/><rect x="395.3" y="331.2" width="1.3" height="7.6" fill="#74726f"/><rect x="395.3" y="339.6" width="1.3" height="6" fill="#74726f"/><rect x="395.3" y="347" width="1.3" height="8.6" fill="#74726f"/><rect x="406.2" y="331.2" width="1.3" height="7.6" fill="#74726f"/><rect x="406.2" y="339.6" width="1.3" height="6" fill="#74726f"/><rect x="406.2" y="347" width="1.3" height="8.6" fill="#74726f"/><rect x="417.2" y="331.2" width="1.3" height="7.6" fill="#74726f"/><rect x="417.2" y="339.6" width="1.3" height="6" fill="#74726f"/><rect x="417.2" y="347" width="1.3" height="8.6" fill="#74726f"/><rect x="428.1" y="331.2" width="1.3" height="7.6" fill="#74726f"/><rect x="428.1" y="339.6" width="1.3" height="6" fill="#74726f"/><rect x="428.1" y="347" width="1.3" height="8.6" fill="#74726f"/><rect x="439.1" y="331.2" width="1.3" height="7.6" fill="#74726f"/><rect x="439.1" y="339.6" width="1.3" height="6" fill="#74726f"/><rect x="439.1" y="347" width="1.3" height="8.6" fill="#74726f"/><rect x="450.0" y="331.2" width="1.3" height="7.6" fill="#74726f"/><rect x="450.0" y="339.6" width="1.3" height="6" fill="#74726f"/><rect x="450.0" y="347" width="1.3" height="8.6" fill="#74726f"/><rect x="460.9" y="331.2" width="1.3" height="7.6" fill="#74726f"/><rect x="460.9" y="339.6" width="1.3" height="6" fill="#74726f"/><rect x="460.9" y="347" width="1.3" height="8.6" fill="#74726f"/><rect x="471.9" y="331.2" width="1.3" height="7.6" fill="#74726f"/><rect x="471.9" y="339.6" width="1.3" height="6" fill="#74726f"/><rect x="471.9" y="347" width="1.3" height="8.6" fill="#74726f"/><rect x="482.8" y="331.2" width="1.3" height="7.6" fill="#74726f"/><rect x="482.8" y="339.6" width="1.3" height="6" fill="#74726f"/><rect x="482.8" y="347" width="1.3" height="8.6" fill="#74726f"/><rect x="493.8" y="331.2" width="1.3" height="7.6" fill="#74726f"/><rect x="493.8" y="339.6" width="1.3" height="6" fill="#74726f"/><rect x="493.8" y="347" width="1.3" height="8.6" fill="#74726f"/><rect x="504.7" y="331.2" width="1.3" height="7.6" fill="#74726f"/><rect x="504.7" y="339.6" width="1.3" height="6" fill="#74726f"/><rect x="504.7" y="347" width="1.3" height="8.6" fill="#74726f"/><rect x="515.6" y="331.2" width="1.3" height="7.6" fill="#74726f"/><rect x="515.6" y="339.6" width="1.3" height="6" fill="#74726f"/><rect x="515.6" y="347" width="1.3" height="8.6" fill="#74726f"/><rect x="526.6" y="331.2" width="1.3" height="7.6" fill="#74726f"/><rect x="526.6" y="339.6" width="1.3" height="6" fill="#74726f"/><rect x="526.6" y="347" width="1.3" height="8.6" fill="#74726f"/><rect x="537.5" y="331.2" width="1.3" height="7.6" fill="#74726f"/><rect x="537.5" y="339.6" width="1.3" height="6" fill="#74726f"/><rect x="537.5" y="347" width="1.3" height="8.6" fill="#74726f"/></g>
<g font-family="Liberation Sans, sans-serif" font-size="3.4" fill="#6e6e6e" text-anchor="middle"><text x="56.8" y="369.2">1</text><text x="67.7" y="369.2">2</text><text x="78.7" y="369.2">3</text><text x="89.6" y="369.2">4</text><text x="100.6" y="369.2">5</text><text x="111.5" y="369.2">6</text><text x="122.4" y="369.2">7</text><text x="133.4" y="369.2">8</text><text x="144.3" y="369.2">9</text><text x="155.3" y="369.2">10</text><text x="166.2" y="369.2">11</text><text x="177.1" y="369.2">12</text><text x="188.1" y="369.2">13</text><text x="199.0" y="369.2">14</text><text x="210.0" y="369.2">15</text><text x="220.9" y="369.2">16</text><text x="231.8" y="369.2">17</text><text x="242.8" y="369.2">18</text><text x="253.7" y="369.2">19</text><text x="264.7" y="369.2">20</text><text x="275.6" y="369.2">21</text><text x="286.5" y="369.2">22</text><text x="297.5" y="369.2">23</text><text x="308.4" y="369.2">24</text><text x="319.4" y="369.2">25</text><text x="330.3" y="369.2">26</text><text x="341.2" y="369.2">27</text><text x="352.2" y="369.2">28</text><text x="363.1" y="369.2">29</text><text x="374.1" y="369.2">30</text><text x="385.0" y="369.2">31</text><text x="395.9" y="369.2">32</text><text x="406.9" y="369.2">33</text><text x="417.8" y="369.2">34</text><text x="428.8" y="369.2">35</text><text x="439.7" y="369.2">36</text><text x="450.6" y="369.2">37</text><text x="461.6" y="369.2">38</text><text x="472.5" y="369.2">39</text><text x="483.5" y="369.2">40</text><text x="494.4" y="369.2">41</text><text x="505.3" y="369.2">42</text><text x="516.3" y="369.2">43</text><text x="527.2" y="369.2">44</text><text x="538.2" y="369.2">45</text></g>
<g font-family="Liberation Sans, sans-serif" font-size="3.3" fill="#707070"><text x="52.3" y="364.6">Block 1 (5 kb)</text><text x="96.1" y="364.6">Block 2 (163 kb)</text><text x="216.4" y="364.6">Block 3 (266 kb)</text><text x="358.6" y="364.6">Block 4 (75 kb)</text><text x="468.0" y="364.6">Block 5 (74 kb)</text></g>
<text x="520.6" y="457.6" font-family="Liberation Serif, serif" font-style="italic" font-weight="bold" font-size="12.5" fill="#111">r</text>
<text x="526.2" y="452.8" font-family="Liberation Serif, serif" font-style="italic" font-weight="bold" font-size="7.5" fill="#111">2</text>
<rect x="518.8" y="468.2" width="7.4" height="15.6" fill="#e41010"/>
<rect x="518.8" y="483.8" width="7.4" height="15.8" fill="#f4a0a4"/>
<rect x="518.8" y="499.6" width="7.4" height="15.4" fill="#ffffff"/>
<rect x="518.5" y="467.9" width="8" height="47.4" rx="1" fill="none" stroke="#111" stroke-width="1.4"/>
<text x="539.4" y="476.3" font-family="Liberation Serif, serif" font-weight="bold" font-size="9.5" fill="#111" text-anchor="middle">1</text>
<text x="539.6" y="514.6" font-family="Liberation Serif, serif" font-weight="bold" font-size="10.5" fill="#111" text-anchor="middle">0</text>
<g fill="none" stroke="#2a2a2a" stroke-width="1"><path d="M51.33 370.50L51.33 360.5L84.15 360.5L84.15 370.50L67.74 390.51Z"/><path d="M95.09 370.50L95.09 360.5L204.49 360.5L204.49 370.50L149.79 437.20Z"/><path d="M215.43 370.50L215.43 360.5L357.65 360.5L357.65 370.50L286.54 457.21Z"/><path d="M357.65 370.50L357.65 360.5L467.05 360.5L467.05 370.50L412.35 437.20Z"/><path d="M467.05 370.50L467.05 360.5L543.63 360.5L543.63 370.50L505.34 417.19Z"/></g>
<g stroke="#d8ae8a" stroke-width="1.05" fill="none" stroke-dasharray="3.2 1.8">
<path d="M226.5 30.5V238L95.5 359.8"/>
<path d="M279.4 32V240.2L204.6 359.8"/>
</g>
<g><circle cx="123.1" cy="182.3" r="2.05" fill="#e04545"/><circle cx="123.1" cy="184.8" r="2.05" fill="#e04545"/><circle cx="123.1" cy="198.1" r="2.05" fill="#4a4a4a"/><circle cx="123.0" cy="215.2" r="2.05" fill="#1f6ad0"/><circle cx="123.0" cy="217.0" r="2.05" fill="#1f6ad0"/><path d="M123.0 217.1L125.2 221.0L120.8 221.0Z" fill="#a77ee0"/><path d="M123.0 219.2L125.2 223.2L120.8 223.2Z" fill="#a77ee0"/><path d="M123.0 222.3L125.2 226.3L120.8 226.3Z" fill="#2f9a5e"/><circle cx="230.8" cy="122.0" r="2.05" fill="#1f6ad0"/><circle cx="231.1" cy="162.1" r="2.05" fill="#e04545"/><circle cx="231.1" cy="179.8" r="2.05" fill="#4a4a4a"/><path d="M231.1 184.1L233.3 188.0L228.8 188.0Z" fill="#2f9a5e"/><path d="M230.8 201.9L233.1 205.9L228.6 205.9Z" fill="#a77ee0"/><path d="M251.0 59.8L253.2 63.7L248.8 63.7Z" fill="#2f9a5e"/><path d="M271.7 68.0L273.9 71.9L269.4 71.9Z" fill="#2f9a5e"/><path d="M270.7 70.5L272.9 74.5L268.4 74.5Z" fill="#2f9a5e"/><path d="M277.5 71.8L279.8 75.8L275.2 75.8Z" fill="#2f9a5e"/><circle cx="251.0" cy="99.5" r="2.05" fill="#1f6ad0"/><path d="M251.0 99.5L253.2 103.4L248.8 103.4Z" fill="#2f9a5e"/><circle cx="270.5" cy="101.7" r="2.05" fill="#1f6ad0"/><path d="M274.7 101.0L276.9 104.9L272.4 104.9Z" fill="#2f9a5e"/><circle cx="277.7" cy="104.0" r="2.05" fill="#1f6ad0"/><circle cx="272.0" cy="107.7" r="2.05" fill="#1f6ad0"/><path d="M248.8 117.5L251.1 121.4L246.6 121.4Z" fill="#2f9a5e"/><circle cx="251.1" cy="137.5" r="2.05" fill="#e04545"/><circle cx="251.1" cy="136.3" r="2.05" fill="#1f6ad0"/><circle cx="270.2" cy="134.4" r="2.05" fill="#e04545"/><circle cx="274.4" cy="133.5" r="2.05" fill="#1f6ad0"/><circle cx="272.0" cy="138.1" r="2.05" fill="#e04545"/><circle cx="277.7" cy="134.8" r="2.05" fill="#e04545"/><circle cx="274.4" cy="150.6" r="2.05" fill="#e04545"/><path d="M270.2 152.2L272.4 156.2L267.9 156.2Z" fill="#a77ee0"/><circle cx="277.7" cy="156.2" r="2.05" fill="#4a4a4a"/><path d="M272.0 157.8L274.2 161.8L269.8 161.8Z" fill="#a77ee0"/><circle cx="251.1" cy="154.1" r="2.05" fill="#4a4a4a"/><circle cx="251.1" cy="158.0" r="2.05" fill="#e04545"/><circle cx="248.6" cy="160.6" r="2.05" fill="#1f6ad0"/><path d="M251.1 161.4L253.3 165.4L248.8 165.4Z" fill="#a77ee0"/><circle cx="270.5" cy="168.2" r="2.05" fill="#4a4a4a"/><circle cx="272.0" cy="169.6" r="2.05" fill="#4a4a4a"/><path d="M277.7 165.3L279.9 169.3L275.4 169.3Z" fill="#a77ee0"/><path d="M274.4 169.9L276.6 173.9L272.1 173.9Z" fill="#a77ee0"/><circle cx="274.4" cy="176.8" r="2.05" fill="#4a4a4a"/><circle cx="251.1" cy="174.5" r="2.05" fill="#4a4a4a"/><circle cx="248.6" cy="175.5" r="2.05" fill="#e04545"/><path d="M251.1 174.6L253.3 178.5L248.8 178.5Z" fill="#a77ee0"/><path d="M248.6 189.8L250.8 193.8L246.3 193.8Z" fill="#a77ee0"/><path d="M248.6 189.4L250.8 193.4L246.3 193.4Z" fill="#a77ee0"/><circle cx="248.6" cy="196.5" r="2.05" fill="#4a4a4a"/><circle cx="248.6" cy="197.5" r="2.05" fill="#1f6ad0"/><circle cx="248.6" cy="199.0" r="2.05" fill="#1f6ad0"/><circle cx="248.6" cy="208.6" r="2.05" fill="#4a4a4a"/><circle cx="248.6" cy="214.1" r="2.05" fill="#e04545"/><path d="M248.6 213.7L250.8 217.6L246.3 217.6Z" fill="#2f9a5e"/><path d="M248.6 223.3L250.8 227.3L246.3 227.3Z" fill="#a77ee0"/><circle cx="376.9" cy="212.5" r="2.05" fill="#1f6ad0"/><circle cx="376.9" cy="216.3" r="2.05" fill="#e04545"/><path d="M376.9 218.9L379.1 222.9L374.6 222.9Z" fill="#2f9a5e"/><path d="M376.9 231.4L379.1 235.4L374.6 235.4Z" fill="#a77ee0"/><circle cx="392.0" cy="205.4" r="2.05" fill="#1f6ad0"/><circle cx="397.6" cy="208.3" r="2.05" fill="#1f6ad0"/><circle cx="395.1" cy="218.4" r="2.05" fill="#1f6ad0"/><circle cx="400.7" cy="220.3" r="2.05" fill="#1f6ad0"/><circle cx="403.1" cy="221.7" r="2.05" fill="#1f6ad0"/><circle cx="405.0" cy="215.9" r="2.05" fill="#1f6ad0"/><circle cx="409.5" cy="215.8" r="2.05" fill="#1f6ad0"/><circle cx="409.5" cy="221.4" r="2.05" fill="#e04545"/><circle cx="397.6" cy="223.9" r="2.05" fill="#e04545"/><circle cx="392.0" cy="223.6" r="2.05" fill="#e04545"/><path d="M392.0 222.2L394.2 226.1L389.8 226.1Z" fill="#2f9a5e"/><path d="M397.6 224.9L399.9 228.9L395.4 228.9Z" fill="#2f9a5e"/><path d="M405.0 225.2L407.2 229.2L402.8 229.2Z" fill="#2f9a5e"/><circle cx="394.9" cy="229.7" r="2.05" fill="#e04545"/><circle cx="400.9" cy="230.4" r="2.05" fill="#e04545"/><circle cx="391.6" cy="232.1" r="2.05" fill="#4a4a4a"/><circle cx="396.0" cy="233.0" r="2.05" fill="#4a4a4a"/><path d="M409.5 230.9L411.8 234.9L407.2 234.9Z" fill="#2f9a5e"/><path d="M392.0 232.3L394.2 236.3L389.8 236.3Z" fill="#a77ee0"/><path d="M395.0 232.3L397.2 236.3L392.8 236.3Z" fill="#a77ee0"/><path d="M398.0 232.3L400.2 236.3L395.8 236.3Z" fill="#a77ee0"/><path d="M401.0 232.3L403.2 236.3L398.8 236.3Z" fill="#a77ee0"/><path d="M404.0 232.3L406.2 236.3L401.8 236.3Z" fill="#a77ee0"/><path d="M407.0 232.3L409.2 236.3L404.8 236.3Z" fill="#a77ee0"/><circle cx="422.0" cy="211.9" r="2.05" fill="#1f6ad0"/><path d="M422.0 222.8L424.2 226.7L419.8 226.7Z" fill="#2f9a5e"/><circle cx="422.0" cy="229.7" r="2.05" fill="#e04545"/><path d="M422.0 229.2L424.2 233.2L419.8 233.2Z" fill="#a77ee0"/><circle cx="422.0" cy="234.0" r="2.05" fill="#4a4a4a"/><path d="M432.9 224.3L435.1 228.3L430.6 228.3Z" fill="#a77ee0"/><path d="M432.9 226.6L435.1 230.5L430.6 230.5Z" fill="#a77ee0"/><path d="M432.9 228.2L435.1 232.1L430.6 232.1Z" fill="#a77ee0"/><path d="M432.9 230.3L435.1 234.3L430.6 234.3Z" fill="#2f9a5e"/><circle cx="432.9" cy="235.9" r="2.05" fill="#e04545"/><circle cx="453.1" cy="212.4" r="2.05" fill="#1f6ad0"/><circle cx="452.5" cy="215.2" r="2.05" fill="#1f6ad0"/><circle cx="452.5" cy="217.4" r="2.05" fill="#e04545"/><circle cx="452.7" cy="225.0" r="2.05" fill="#4a4a4a"/><circle cx="452.0" cy="227.2" r="2.05" fill="#4a4a4a"/><circle cx="459.6" cy="206.5" r="2.05" fill="#1f6ad0"/><circle cx="460.7" cy="205.4" r="2.05" fill="#1f6ad0"/><circle cx="459.6" cy="217.9" r="2.05" fill="#4a4a4a"/><circle cx="460.4" cy="220.6" r="2.05" fill="#4a4a4a"/><path d="M464.0 213.4L466.2 217.4L461.8 217.4Z" fill="#2f9a5e"/><circle cx="467.3" cy="221.7" r="2.05" fill="#4a4a4a"/><circle cx="467.3" cy="202.6" r="2.05" fill="#1f6ad0"/><circle cx="467.3" cy="208.6" r="2.05" fill="#e04545"/><path d="M463.4 223.8L465.6 227.8L461.1 227.8Z" fill="#a77ee0"/><circle cx="463.4" cy="230.1" r="2.05" fill="#1f6ad0"/><circle cx="463.4" cy="235.6" r="2.05" fill="#4a4a4a"/><path d="M460.1 150.3L462.4 154.3L457.9 154.3Z" fill="#a77ee0"/><path d="M452.9 157.4L455.1 161.4L450.6 161.4Z" fill="#a77ee0"/><path d="M452.9 160.8L455.1 164.7L450.6 164.7Z" fill="#a77ee0"/><path d="M459.2 159.2L461.4 163.2L456.9 163.2Z" fill="#a77ee0"/><path d="M460.1 161.7L462.4 165.6L457.9 165.6Z" fill="#2f9a5e"/><path d="M467.2 163.9L469.4 167.9L464.9 167.9Z" fill="#a77ee0"/><path d="M453.1 168.7L455.4 172.6L450.9 172.6Z" fill="#2f9a5e"/><path d="M452.0 170.6L454.2 174.5L449.8 174.5Z" fill="#a77ee0"/><path d="M467.2 171.1L469.4 175.0L464.9 175.0Z" fill="#2f9a5e"/><path d="M452.4 176.7L454.6 180.6L450.1 180.6Z" fill="#2f9a5e"/><circle cx="477.6" cy="197.3" r="2.05" fill="#e04545"/><circle cx="477.2" cy="203.1" r="2.05" fill="#4a4a4a"/><path d="M480.0 198.9L482.2 202.9L477.8 202.9Z" fill="#a77ee0"/><circle cx="485.4" cy="200.8" r="2.05" fill="#4a4a4a"/><circle cx="489.8" cy="196.7" r="2.05" fill="#4a4a4a"/><path d="M495.4 193.3L497.6 197.3L493.1 197.3Z" fill="#2f9a5e"/><path d="M498.7 199.4L500.9 203.4L496.4 203.4Z" fill="#2f9a5e"/><path d="M500.6 199.9L502.9 203.9L498.4 203.9Z" fill="#2f9a5e"/><path d="M495.9 202.8L498.1 206.7L493.6 206.7Z" fill="#2f9a5e"/><path d="M493.1 206.1L495.4 210.0L490.9 210.0Z" fill="#2f9a5e"/><path d="M477.2 207.8L479.4 211.8L474.9 211.8Z" fill="#a77ee0"/><path d="M477.2 210.2L479.4 214.2L474.9 214.2Z" fill="#2f9a5e"/><circle cx="485.4" cy="212.0" r="2.05" fill="#1f6ad0"/><circle cx="485.4" cy="214.5" r="2.05" fill="#e04545"/><circle cx="489.8" cy="209.7" r="2.05" fill="#1f6ad0"/><circle cx="492.6" cy="212.0" r="2.05" fill="#1f6ad0"/><circle cx="495.4" cy="212.5" r="2.05" fill="#4a4a4a"/><circle cx="495.4" cy="216.7" r="2.05" fill="#1f6ad0"/><circle cx="492.2" cy="218.1" r="2.05" fill="#4a4a4a"/><circle cx="499.6" cy="218.6" r="2.05" fill="#4a4a4a"/><path d="M492.6 218.2L494.9 222.1L490.4 222.1Z" fill="#a77ee0"/><path d="M495.9 220.1L498.1 224.0L493.6 224.0Z" fill="#a77ee0"/><path d="M500.1 221.9L502.4 225.9L497.9 225.9Z" fill="#a77ee0"/><path d="M495.0 223.8L497.2 227.7L492.8 227.7Z" fill="#a77ee0"/><circle cx="498.2" cy="227.5" r="2.05" fill="#1f6ad0"/><circle cx="498.2" cy="230.3" r="2.05" fill="#e04545"/><path d="M498.2 230.8L500.4 234.8L495.9 234.8Z" fill="#a77ee0"/><circle cx="477.2" cy="219.8" r="2.05" fill="#1f6ad0"/><path d="M485.4 224.2L487.6 228.2L483.1 228.2Z" fill="#a77ee0"/><path d="M489.8 223.3L492.1 227.3L487.6 227.3Z" fill="#2f9a5e"/><path d="M489.8 226.7L492.1 230.6L487.6 230.6Z" fill="#a77ee0"/><path d="M479.5 228.1L481.8 232.0L477.2 232.0Z" fill="#2f9a5e"/><path d="M479.5 230.3L481.8 234.3L477.2 234.3Z" fill="#2f9a5e"/><circle cx="479.5" cy="236.3" r="2.05" fill="#e04545"/></g>
</svg></body></html>
